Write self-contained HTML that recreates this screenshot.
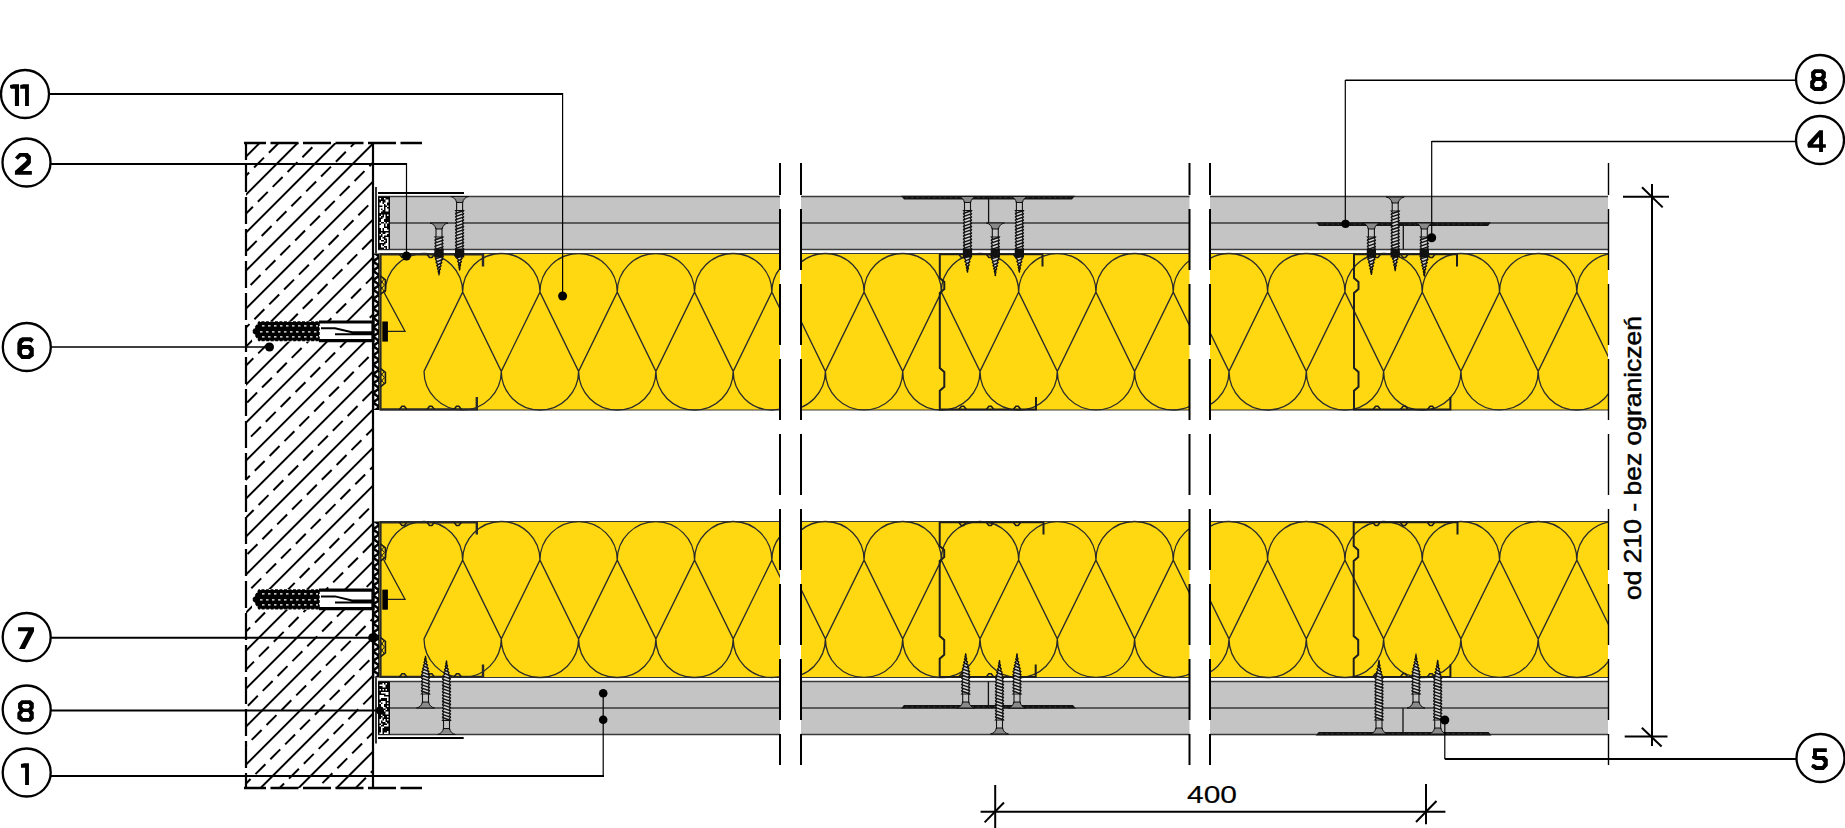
<!DOCTYPE html>
<html><head><meta charset="utf-8"><style>html,body{margin:0;padding:0;background:#fff;overflow:hidden}svg{display:block}.t{font-family:"Liberation Sans",sans-serif}</style></head>
<body><svg width="1845" height="828" viewBox="0 0 1845 828">
<rect width="1845" height="828" fill="#fff"/>
<defs>
<clipPath id="wallclip"><rect x="246" y="143" width="127" height="645"/></clipPath>
<clipPath id="ws0"><rect x="380" y="0" width="400" height="828"/></clipPath>
<clipPath id="ws1"><rect x="801" y="0" width="388.5" height="828"/></clipPath>
<clipPath id="ws2"><rect x="1210" y="0" width="398" height="828"/></clipPath>
</defs>
<g clip-path="url(#wallclip)">
<line x1="-497.40" y1="900.00" x2="502.60" y2="-100.00" stroke="#000" stroke-width="2" />
<line x1="-478.40" y1="900" x2="521.60" y2="-100" stroke="#000" stroke-width="2" stroke-dasharray="14 7" stroke-dashoffset="14.14"/>
<line x1="-459.40" y1="900.00" x2="540.60" y2="-100.00" stroke="#000" stroke-width="2" />
<line x1="-440.40" y1="900" x2="559.60" y2="-100" stroke="#000" stroke-width="2" stroke-dasharray="14 7" stroke-dashoffset="20.51"/>
<line x1="-421.40" y1="900.00" x2="578.60" y2="-100.00" stroke="#000" stroke-width="2" />
<line x1="-402.40" y1="900" x2="597.60" y2="-100" stroke="#000" stroke-width="2" stroke-dasharray="14 7" stroke-dashoffset="5.87"/>
<line x1="-383.40" y1="900.00" x2="616.60" y2="-100.00" stroke="#000" stroke-width="2" />
<line x1="-364.40" y1="900" x2="635.60" y2="-100" stroke="#000" stroke-width="2" stroke-dasharray="14 7" stroke-dashoffset="12.23"/>
<line x1="-345.40" y1="900.00" x2="654.60" y2="-100.00" stroke="#000" stroke-width="2" />
<line x1="-326.40" y1="900" x2="673.60" y2="-100" stroke="#000" stroke-width="2" stroke-dasharray="14 7" stroke-dashoffset="18.60"/>
<line x1="-307.40" y1="900.00" x2="692.60" y2="-100.00" stroke="#000" stroke-width="2" />
<line x1="-288.40" y1="900" x2="711.60" y2="-100" stroke="#000" stroke-width="2" stroke-dasharray="14 7" stroke-dashoffset="3.96"/>
<line x1="-269.40" y1="900.00" x2="730.60" y2="-100.00" stroke="#000" stroke-width="2" />
<line x1="-250.40" y1="900" x2="749.60" y2="-100" stroke="#000" stroke-width="2" stroke-dasharray="14 7" stroke-dashoffset="10.32"/>
<line x1="-231.40" y1="900.00" x2="768.60" y2="-100.00" stroke="#000" stroke-width="2" />
<line x1="-212.40" y1="900" x2="787.60" y2="-100" stroke="#000" stroke-width="2" stroke-dasharray="14 7" stroke-dashoffset="16.69"/>
<line x1="-193.40" y1="900.00" x2="806.60" y2="-100.00" stroke="#000" stroke-width="2" />
<line x1="-174.40" y1="900" x2="825.60" y2="-100" stroke="#000" stroke-width="2" stroke-dasharray="14 7" stroke-dashoffset="2.05"/>
<line x1="-155.40" y1="900.00" x2="844.60" y2="-100.00" stroke="#000" stroke-width="2" />
<line x1="-136.40" y1="900" x2="863.60" y2="-100" stroke="#000" stroke-width="2" stroke-dasharray="14 7" stroke-dashoffset="8.41"/>
<line x1="-117.40" y1="900.00" x2="882.60" y2="-100.00" stroke="#000" stroke-width="2" />
<line x1="-98.40" y1="900" x2="901.60" y2="-100" stroke="#000" stroke-width="2" stroke-dasharray="14 7" stroke-dashoffset="14.78"/>
<line x1="-79.40" y1="900.00" x2="920.60" y2="-100.00" stroke="#000" stroke-width="2" />
<line x1="-60.40" y1="900" x2="939.60" y2="-100" stroke="#000" stroke-width="2" stroke-dasharray="14 7" stroke-dashoffset="0.14"/>
<line x1="-41.40" y1="900.00" x2="958.60" y2="-100.00" stroke="#000" stroke-width="2" />
<line x1="-22.40" y1="900" x2="977.60" y2="-100" stroke="#000" stroke-width="2" stroke-dasharray="14 7" stroke-dashoffset="6.51"/>
<line x1="-3.40" y1="900.00" x2="996.60" y2="-100.00" stroke="#000" stroke-width="2" />
<line x1="15.60" y1="900" x2="1015.60" y2="-100" stroke="#000" stroke-width="2" stroke-dasharray="14 7" stroke-dashoffset="12.87"/>
<line x1="34.60" y1="900.00" x2="1034.60" y2="-100.00" stroke="#000" stroke-width="2" />
<line x1="53.60" y1="900" x2="1053.60" y2="-100" stroke="#000" stroke-width="2" stroke-dasharray="14 7" stroke-dashoffset="19.23"/>
<line x1="72.60" y1="900.00" x2="1072.60" y2="-100.00" stroke="#000" stroke-width="2" />
<line x1="91.60" y1="900" x2="1091.60" y2="-100" stroke="#000" stroke-width="2" stroke-dasharray="14 7" stroke-dashoffset="4.60"/>
<line x1="110.60" y1="900.00" x2="1110.60" y2="-100.00" stroke="#000" stroke-width="2" />
<line x1="129.60" y1="900" x2="1129.60" y2="-100" stroke="#000" stroke-width="2" stroke-dasharray="14 7" stroke-dashoffset="10.96"/>
<line x1="148.60" y1="900.00" x2="1148.60" y2="-100.00" stroke="#000" stroke-width="2" />
<line x1="167.60" y1="900" x2="1167.60" y2="-100" stroke="#000" stroke-width="2" stroke-dasharray="14 7" stroke-dashoffset="17.32"/>
<line x1="186.60" y1="900.00" x2="1186.60" y2="-100.00" stroke="#000" stroke-width="2" />
<line x1="205.60" y1="900" x2="1205.60" y2="-100" stroke="#000" stroke-width="2" stroke-dasharray="14 7" stroke-dashoffset="2.69"/>
<line x1="224.60" y1="900.00" x2="1224.60" y2="-100.00" stroke="#000" stroke-width="2" />
<line x1="243.60" y1="900" x2="1243.60" y2="-100" stroke="#000" stroke-width="2" stroke-dasharray="14 7" stroke-dashoffset="9.05"/>
<line x1="262.60" y1="900.00" x2="1262.60" y2="-100.00" stroke="#000" stroke-width="2" />
<line x1="281.60" y1="900" x2="1281.60" y2="-100" stroke="#000" stroke-width="2" stroke-dasharray="14 7" stroke-dashoffset="15.41"/>
</g>
<line x1="246" y1="143" x2="246" y2="788" stroke="#000" stroke-width="2.2" stroke-dasharray="27 5" stroke-dashoffset="10"/>
<line x1="373.00" y1="142.00" x2="373.00" y2="789.00" stroke="#000" stroke-width="2.2" />
<line x1="244" y1="143" x2="422" y2="143" stroke="#000" stroke-width="2.4" stroke-dasharray="28 4.5" stroke-dashoffset="6"/>
<line x1="244" y1="788" x2="422" y2="788" stroke="#000" stroke-width="2.4" stroke-dasharray="28 4.5" stroke-dashoffset="6"/>
<rect x="378" y="196.5" width="402" height="53.0" fill="#C4C4C4"/>
<line x1="378.00" y1="196.50" x2="780.00" y2="196.50" stroke="#3a3a3a" stroke-width="1.3" />
<line x1="378.00" y1="223.00" x2="780.00" y2="223.00" stroke="#3a3a3a" stroke-width="1.3" />
<line x1="378.00" y1="249.50" x2="780.00" y2="249.50" stroke="#3a3a3a" stroke-width="1.3" />
<rect x="801" y="196.5" width="388.5" height="53.0" fill="#C4C4C4"/>
<line x1="801.00" y1="196.50" x2="1189.50" y2="196.50" stroke="#3a3a3a" stroke-width="1.3" />
<line x1="801.00" y1="223.00" x2="1189.50" y2="223.00" stroke="#3a3a3a" stroke-width="1.3" />
<line x1="801.00" y1="249.50" x2="1189.50" y2="249.50" stroke="#3a3a3a" stroke-width="1.3" />
<rect x="1210" y="196.5" width="398" height="53.0" fill="#C4C4C4"/>
<line x1="1210.00" y1="196.50" x2="1608.00" y2="196.50" stroke="#3a3a3a" stroke-width="1.3" />
<line x1="1210.00" y1="223.00" x2="1608.00" y2="223.00" stroke="#3a3a3a" stroke-width="1.3" />
<line x1="1210.00" y1="249.50" x2="1608.00" y2="249.50" stroke="#3a3a3a" stroke-width="1.3" />
<rect x="378" y="196.5" width="12" height="53.0" fill="#000"/>
<path d="M379.5,198.0h1.5v1.5h-1.5zM384.0,198.0h1.5v1.5h-1.5zM385.5,199.5h1.5v1.5h-1.5zM387.0,199.5h1.5v1.5h-1.5zM381.0,201.0h1.5v1.5h-1.5zM385.5,201.0h1.5v1.5h-1.5zM387.0,201.0h1.5v1.5h-1.5zM379.5,202.5h1.5v1.5h-1.5zM381.0,202.5h1.5v1.5h-1.5zM384.0,202.5h1.5v1.5h-1.5zM385.5,202.5h1.5v1.5h-1.5zM379.5,204.0h1.5v1.5h-1.5zM381.0,204.0h1.5v1.5h-1.5zM382.5,204.0h1.5v1.5h-1.5zM385.5,204.0h1.5v1.5h-1.5zM382.5,205.5h1.5v1.5h-1.5zM387.0,205.5h1.5v1.5h-1.5zM379.5,207.0h1.5v1.5h-1.5zM381.0,207.0h1.5v1.5h-1.5zM382.5,207.0h1.5v1.5h-1.5zM385.5,207.0h1.5v1.5h-1.5zM379.5,208.5h1.5v1.5h-1.5zM382.5,208.5h1.5v1.5h-1.5zM385.5,208.5h1.5v1.5h-1.5zM387.0,208.5h1.5v1.5h-1.5zM379.5,210.0h1.5v1.5h-1.5zM381.0,210.0h1.5v1.5h-1.5zM385.5,210.0h1.5v1.5h-1.5zM387.0,210.0h1.5v1.5h-1.5zM379.5,211.5h1.5v1.5h-1.5zM381.0,214.5h1.5v1.5h-1.5zM384.0,214.5h1.5v1.5h-1.5zM387.0,214.5h1.5v1.5h-1.5zM379.5,216.0h1.5v1.5h-1.5zM384.0,216.0h1.5v1.5h-1.5zM382.5,217.5h1.5v1.5h-1.5zM384.0,217.5h1.5v1.5h-1.5zM381.0,219.0h1.5v1.5h-1.5zM382.5,219.0h1.5v1.5h-1.5zM381.0,220.5h1.5v1.5h-1.5zM382.5,220.5h1.5v1.5h-1.5zM379.5,222.0h1.5v1.5h-1.5zM384.0,222.0h1.5v1.5h-1.5zM387.0,222.0h1.5v1.5h-1.5zM381.0,223.5h1.5v1.5h-1.5zM382.5,223.5h1.5v1.5h-1.5zM385.5,223.5h1.5v1.5h-1.5zM379.5,225.0h1.5v1.5h-1.5zM381.0,225.0h1.5v1.5h-1.5zM382.5,225.0h1.5v1.5h-1.5zM385.5,225.0h1.5v1.5h-1.5zM379.5,226.5h1.5v1.5h-1.5zM381.0,226.5h1.5v1.5h-1.5zM382.5,226.5h1.5v1.5h-1.5zM381.0,228.0h1.5v1.5h-1.5zM384.0,228.0h1.5v1.5h-1.5zM385.5,228.0h1.5v1.5h-1.5zM381.0,229.5h1.5v1.5h-1.5zM384.0,229.5h1.5v1.5h-1.5zM385.5,229.5h1.5v1.5h-1.5zM387.0,229.5h1.5v1.5h-1.5zM381.0,232.5h1.5v1.5h-1.5zM385.5,232.5h1.5v1.5h-1.5zM387.0,232.5h1.5v1.5h-1.5zM379.5,234.0h1.5v1.5h-1.5zM382.5,234.0h1.5v1.5h-1.5zM384.0,234.0h1.5v1.5h-1.5zM385.5,234.0h1.5v1.5h-1.5zM382.5,235.5h1.5v1.5h-1.5zM381.0,237.0h1.5v1.5h-1.5zM385.5,237.0h1.5v1.5h-1.5zM387.0,237.0h1.5v1.5h-1.5zM381.0,238.5h1.5v1.5h-1.5zM382.5,238.5h1.5v1.5h-1.5zM387.0,238.5h1.5v1.5h-1.5zM379.5,240.0h1.5v1.5h-1.5zM384.0,240.0h1.5v1.5h-1.5zM387.0,240.0h1.5v1.5h-1.5zM379.5,241.5h1.5v1.5h-1.5zM381.0,241.5h1.5v1.5h-1.5zM382.5,241.5h1.5v1.5h-1.5zM387.0,241.5h1.5v1.5h-1.5zM385.5,243.0h1.5v1.5h-1.5zM387.0,243.0h1.5v1.5h-1.5zM381.0,244.5h1.5v1.5h-1.5zM384.0,244.5h1.5v1.5h-1.5zM385.5,244.5h1.5v1.5h-1.5zM387.0,244.5h1.5v1.5h-1.5zM381.0,246.0h1.5v1.5h-1.5zM382.5,246.0h1.5v1.5h-1.5zM387.0,246.0h1.5v1.5h-1.5zM384.0,247.5h1.5v1.5h-1.5zM387.0,247.5h1.5v1.5h-1.5z" fill="#fff"/>
<rect x="378" y="681.5" width="402" height="53.0" fill="#C4C4C4"/>
<line x1="378.00" y1="681.50" x2="780.00" y2="681.50" stroke="#3a3a3a" stroke-width="1.3" />
<line x1="378.00" y1="708.00" x2="780.00" y2="708.00" stroke="#3a3a3a" stroke-width="1.3" />
<line x1="378.00" y1="734.50" x2="780.00" y2="734.50" stroke="#3a3a3a" stroke-width="1.3" />
<rect x="801" y="681.5" width="388.5" height="53.0" fill="#C4C4C4"/>
<line x1="801.00" y1="681.50" x2="1189.50" y2="681.50" stroke="#3a3a3a" stroke-width="1.3" />
<line x1="801.00" y1="708.00" x2="1189.50" y2="708.00" stroke="#3a3a3a" stroke-width="1.3" />
<line x1="801.00" y1="734.50" x2="1189.50" y2="734.50" stroke="#3a3a3a" stroke-width="1.3" />
<rect x="1210" y="681.5" width="398" height="53.0" fill="#C4C4C4"/>
<line x1="1210.00" y1="681.50" x2="1608.00" y2="681.50" stroke="#3a3a3a" stroke-width="1.3" />
<line x1="1210.00" y1="708.00" x2="1608.00" y2="708.00" stroke="#3a3a3a" stroke-width="1.3" />
<line x1="1210.00" y1="734.50" x2="1608.00" y2="734.50" stroke="#3a3a3a" stroke-width="1.3" />
<rect x="378" y="681.5" width="12" height="53.0" fill="#000"/>
<path d="M382.5,683.0h1.5v1.5h-1.5zM385.5,683.0h1.5v1.5h-1.5zM379.5,684.5h1.5v1.5h-1.5zM381.0,684.5h1.5v1.5h-1.5zM382.5,684.5h1.5v1.5h-1.5zM384.0,684.5h1.5v1.5h-1.5zM382.5,686.0h1.5v1.5h-1.5zM384.0,686.0h1.5v1.5h-1.5zM379.5,689.0h1.5v1.5h-1.5zM382.5,689.0h1.5v1.5h-1.5zM385.5,689.0h1.5v1.5h-1.5zM381.0,692.0h1.5v1.5h-1.5zM382.5,692.0h1.5v1.5h-1.5zM384.0,692.0h1.5v1.5h-1.5zM385.5,692.0h1.5v1.5h-1.5zM387.0,692.0h1.5v1.5h-1.5zM385.5,693.5h1.5v1.5h-1.5zM387.0,693.5h1.5v1.5h-1.5zM379.5,695.0h1.5v1.5h-1.5zM381.0,695.0h1.5v1.5h-1.5zM382.5,695.0h1.5v1.5h-1.5zM379.5,696.5h1.5v1.5h-1.5zM381.0,696.5h1.5v1.5h-1.5zM382.5,696.5h1.5v1.5h-1.5zM384.0,696.5h1.5v1.5h-1.5zM385.5,696.5h1.5v1.5h-1.5zM387.0,696.5h1.5v1.5h-1.5zM379.5,698.0h1.5v1.5h-1.5zM387.0,698.0h1.5v1.5h-1.5zM387.0,699.5h1.5v1.5h-1.5zM381.0,701.0h1.5v1.5h-1.5zM382.5,701.0h1.5v1.5h-1.5zM384.0,701.0h1.5v1.5h-1.5zM379.5,702.5h1.5v1.5h-1.5zM382.5,702.5h1.5v1.5h-1.5zM384.0,702.5h1.5v1.5h-1.5zM387.0,702.5h1.5v1.5h-1.5zM381.0,704.0h1.5v1.5h-1.5zM382.5,704.0h1.5v1.5h-1.5zM381.0,705.5h1.5v1.5h-1.5zM382.5,705.5h1.5v1.5h-1.5zM387.0,705.5h1.5v1.5h-1.5zM379.5,707.0h1.5v1.5h-1.5zM382.5,707.0h1.5v1.5h-1.5zM384.0,707.0h1.5v1.5h-1.5zM381.0,708.5h1.5v1.5h-1.5zM382.5,708.5h1.5v1.5h-1.5zM385.5,708.5h1.5v1.5h-1.5zM381.0,710.0h1.5v1.5h-1.5zM384.0,710.0h1.5v1.5h-1.5zM379.5,711.5h1.5v1.5h-1.5zM385.5,711.5h1.5v1.5h-1.5zM387.0,711.5h1.5v1.5h-1.5zM385.5,713.0h1.5v1.5h-1.5zM387.0,713.0h1.5v1.5h-1.5zM381.0,714.5h1.5v1.5h-1.5zM382.5,716.0h1.5v1.5h-1.5zM387.0,716.0h1.5v1.5h-1.5zM381.0,717.5h1.5v1.5h-1.5zM379.5,719.0h1.5v1.5h-1.5zM381.0,719.0h1.5v1.5h-1.5zM384.0,719.0h1.5v1.5h-1.5zM387.0,719.0h1.5v1.5h-1.5zM379.5,720.5h1.5v1.5h-1.5zM382.5,720.5h1.5v1.5h-1.5zM384.0,720.5h1.5v1.5h-1.5zM379.5,722.0h1.5v1.5h-1.5zM385.5,722.0h1.5v1.5h-1.5zM381.0,723.5h1.5v1.5h-1.5zM387.0,723.5h1.5v1.5h-1.5zM379.5,725.0h1.5v1.5h-1.5zM384.0,725.0h1.5v1.5h-1.5zM385.5,725.0h1.5v1.5h-1.5zM387.0,725.0h1.5v1.5h-1.5zM381.0,726.5h1.5v1.5h-1.5zM382.5,726.5h1.5v1.5h-1.5zM381.0,728.0h1.5v1.5h-1.5zM381.0,729.5h1.5v1.5h-1.5zM381.0,731.0h1.5v1.5h-1.5zM387.0,731.0h1.5v1.5h-1.5zM379.5,732.5h1.5v1.5h-1.5zM381.0,732.5h1.5v1.5h-1.5zM384.0,732.5h1.5v1.5h-1.5zM385.5,732.5h1.5v1.5h-1.5zM387.0,732.5h1.5v1.5h-1.5z" fill="#fff"/>
<rect x="380" y="253.5" width="400" height="156.5" fill="#FFD811"/>
<line x1="380.00" y1="253.50" x2="780.00" y2="253.50" stroke="#3a3a3a" stroke-width="1.2" />
<line x1="380.00" y1="410.00" x2="780.00" y2="410.00" stroke="#3a3a3a" stroke-width="1.2" />
<path clip-path="url(#ws0)" d="M385.35,292.15 A38.65,38.65 0 0 1 462.65,292.15 M424.00,371.35 L462.65,292.15 M424.00,371.35 A38.65,38.65 0 0 0 501.30,371.35 M462.65,292.15 A38.65,38.65 0 0 1 539.95,292.15 M462.65,292.15 L501.30,371.35 M501.30,371.35 L539.95,292.15 M501.30,371.35 A38.65,38.65 0 0 0 578.60,371.35 M539.95,292.15 A38.65,38.65 0 0 1 617.25,292.15 M539.95,292.15 L578.60,371.35 M578.60,371.35 L617.25,292.15 M578.60,371.35 A38.65,38.65 0 0 0 655.90,371.35 M617.25,292.15 A38.65,38.65 0 0 1 694.55,292.15 M617.25,292.15 L655.90,371.35 M655.90,371.35 L694.55,292.15 M655.90,371.35 A38.65,38.65 0 0 0 733.20,371.35 M694.55,292.15 A38.65,38.65 0 0 1 771.85,292.15 M694.55,292.15 L733.20,371.35 M733.20,371.35 L771.85,292.15 M733.20,371.35 A38.65,38.65 0 0 0 810.50,371.35 M771.85,292.15 A38.65,38.65 0 0 1 849.15,292.15 M771.85,292.15 L810.50,371.35 M810.50,371.35 L849.15,292.15 M810.50,371.35 A38.65,38.65 0 0 0 887.80,371.35 M849.15,292.15 A38.65,38.65 0 0 1 926.45,292.15 M849.15,292.15 L887.80,371.35 M887.80,371.35 L926.45,292.15 M887.80,371.35 A38.65,38.65 0 0 0 965.10,371.35 M926.45,292.15 A38.65,38.65 0 0 1 1003.75,292.15 M926.45,292.15 L965.10,371.35 M965.10,371.35 L1003.75,292.15 M965.10,371.35 A38.65,38.65 0 0 0 1042.40,371.35 M1003.75,292.15 A38.65,38.65 0 0 1 1081.05,292.15 M1003.75,292.15 L1042.40,371.35 M1042.40,371.35 L1081.05,292.15 M1042.40,371.35 A38.65,38.65 0 0 0 1119.70,371.35 M1081.05,292.15 A38.65,38.65 0 0 1 1158.35,292.15 M1081.05,292.15 L1119.70,371.35 M1119.70,371.35 L1158.35,292.15 M1119.70,371.35 A38.65,38.65 0 0 0 1197.00,371.35 M1158.35,292.15 A38.65,38.65 0 0 1 1235.65,292.15 M1158.35,292.15 L1197.00,371.35 M1197.00,371.35 L1235.65,292.15 M1197.00,371.35 A38.65,38.65 0 0 0 1274.30,371.35 M1235.65,292.15 A38.65,38.65 0 0 1 1312.95,292.15 M1235.65,292.15 L1274.30,371.35 M1274.30,371.35 L1312.95,292.15 M1274.30,371.35 A38.65,38.65 0 0 0 1351.60,371.35" fill="none" stroke="#2b2b2b" stroke-width="1.3"/>
<rect x="801" y="253.5" width="388.5" height="156.5" fill="#FFD811"/>
<line x1="801.00" y1="253.50" x2="1189.50" y2="253.50" stroke="#3a3a3a" stroke-width="1.2" />
<line x1="801.00" y1="410.00" x2="1189.50" y2="410.00" stroke="#3a3a3a" stroke-width="1.2" />
<path clip-path="url(#ws1)" d="M632.15,292.15 A38.65,38.65 0 0 1 709.45,292.15 M632.15,292.15 L670.80,371.35 M670.80,371.35 L709.45,292.15 M670.80,371.35 A38.65,38.65 0 0 0 748.10,371.35 M709.45,292.15 A38.65,38.65 0 0 1 786.75,292.15 M709.45,292.15 L748.10,371.35 M748.10,371.35 L786.75,292.15 M748.10,371.35 A38.65,38.65 0 0 0 825.40,371.35 M786.75,292.15 A38.65,38.65 0 0 1 864.05,292.15 M786.75,292.15 L825.40,371.35 M825.40,371.35 L864.05,292.15 M825.40,371.35 A38.65,38.65 0 0 0 902.70,371.35 M864.05,292.15 A38.65,38.65 0 0 1 941.35,292.15 M864.05,292.15 L902.70,371.35 M902.70,371.35 L941.35,292.15 M902.70,371.35 A38.65,38.65 0 0 0 980.00,371.35 M941.35,292.15 A38.65,38.65 0 0 1 1018.65,292.15 M941.35,292.15 L980.00,371.35 M980.00,371.35 L1018.65,292.15 M980.00,371.35 A38.65,38.65 0 0 0 1057.30,371.35 M1018.65,292.15 A38.65,38.65 0 0 1 1095.95,292.15 M1018.65,292.15 L1057.30,371.35 M1057.30,371.35 L1095.95,292.15 M1057.30,371.35 A38.65,38.65 0 0 0 1134.60,371.35 M1095.95,292.15 A38.65,38.65 0 0 1 1173.25,292.15 M1095.95,292.15 L1134.60,371.35 M1134.60,371.35 L1173.25,292.15 M1134.60,371.35 A38.65,38.65 0 0 0 1211.90,371.35 M1173.25,292.15 A38.65,38.65 0 0 1 1250.55,292.15 M1173.25,292.15 L1211.90,371.35 M1211.90,371.35 L1250.55,292.15 M1211.90,371.35 A38.65,38.65 0 0 0 1289.20,371.35 M1250.55,292.15 A38.65,38.65 0 0 1 1327.85,292.15 M1250.55,292.15 L1289.20,371.35 M1289.20,371.35 L1327.85,292.15 M1289.20,371.35 A38.65,38.65 0 0 0 1366.50,371.35 M1327.85,292.15 A38.65,38.65 0 0 1 1405.15,292.15 M1327.85,292.15 L1366.50,371.35 M1366.50,371.35 L1405.15,292.15 M1366.50,371.35 A38.65,38.65 0 0 0 1443.80,371.35 M1405.15,292.15 A38.65,38.65 0 0 1 1482.45,292.15 M1405.15,292.15 L1443.80,371.35 M1443.80,371.35 L1482.45,292.15 M1443.80,371.35 A38.65,38.65 0 0 0 1521.10,371.35 M1482.45,292.15 A38.65,38.65 0 0 1 1559.75,292.15 M1482.45,292.15 L1521.10,371.35 M1521.10,371.35 L1559.75,292.15 M1521.10,371.35 A38.65,38.65 0 0 0 1598.40,371.35 M1559.75,292.15 A38.65,38.65 0 0 1 1637.05,292.15 M1559.75,292.15 L1598.40,371.35 M1598.40,371.35 L1637.05,292.15 M1598.40,371.35 A38.65,38.65 0 0 0 1675.70,371.35 M1637.05,292.15 A38.65,38.65 0 0 1 1714.35,292.15 M1637.05,292.15 L1675.70,371.35 M1675.70,371.35 L1714.35,292.15 M1675.70,371.35 A38.65,38.65 0 0 0 1753.00,371.35" fill="none" stroke="#2b2b2b" stroke-width="1.3"/>
<rect x="1210" y="253.5" width="398" height="156.5" fill="#FFD811"/>
<line x1="1210.00" y1="253.50" x2="1608.00" y2="253.50" stroke="#3a3a3a" stroke-width="1.2" />
<line x1="1210.00" y1="410.00" x2="1608.00" y2="410.00" stroke="#3a3a3a" stroke-width="1.2" />
<path clip-path="url(#ws2)" d="M1035.75,292.15 A38.65,38.65 0 0 1 1113.05,292.15 M1035.75,292.15 L1074.40,371.35 M1074.40,371.35 L1113.05,292.15 M1074.40,371.35 A38.65,38.65 0 0 0 1151.70,371.35 M1113.05,292.15 A38.65,38.65 0 0 1 1190.35,292.15 M1113.05,292.15 L1151.70,371.35 M1151.70,371.35 L1190.35,292.15 M1151.70,371.35 A38.65,38.65 0 0 0 1229.00,371.35 M1190.35,292.15 A38.65,38.65 0 0 1 1267.65,292.15 M1190.35,292.15 L1229.00,371.35 M1229.00,371.35 L1267.65,292.15 M1229.00,371.35 A38.65,38.65 0 0 0 1306.30,371.35 M1267.65,292.15 A38.65,38.65 0 0 1 1344.95,292.15 M1267.65,292.15 L1306.30,371.35 M1306.30,371.35 L1344.95,292.15 M1306.30,371.35 A38.65,38.65 0 0 0 1383.60,371.35 M1344.95,292.15 A38.65,38.65 0 0 1 1422.25,292.15 M1344.95,292.15 L1383.60,371.35 M1383.60,371.35 L1422.25,292.15 M1383.60,371.35 A38.65,38.65 0 0 0 1460.90,371.35 M1422.25,292.15 A38.65,38.65 0 0 1 1499.55,292.15 M1422.25,292.15 L1460.90,371.35 M1460.90,371.35 L1499.55,292.15 M1460.90,371.35 A38.65,38.65 0 0 0 1538.20,371.35 M1499.55,292.15 A38.65,38.65 0 0 1 1576.85,292.15 M1499.55,292.15 L1538.20,371.35 M1538.20,371.35 L1576.85,292.15 M1538.20,371.35 A38.65,38.65 0 0 0 1615.50,371.35 M1576.85,292.15 A38.65,38.65 0 0 1 1654.15,292.15 M1576.85,292.15 L1615.50,371.35 M1615.50,371.35 L1654.15,292.15 M1615.50,371.35 A38.65,38.65 0 0 0 1692.80,371.35 M1654.15,292.15 A38.65,38.65 0 0 1 1731.45,292.15 M1654.15,292.15 L1692.80,371.35 M1692.80,371.35 L1731.45,292.15 M1692.80,371.35 A38.65,38.65 0 0 0 1770.10,371.35 M1731.45,292.15 A38.65,38.65 0 0 1 1808.75,292.15 M1731.45,292.15 L1770.10,371.35 M1770.10,371.35 L1808.75,292.15 M1770.10,371.35 A38.65,38.65 0 0 0 1847.40,371.35 M1808.75,292.15 A38.65,38.65 0 0 1 1886.05,292.15 M1808.75,292.15 L1847.40,371.35 M1847.40,371.35 L1886.05,292.15 M1847.40,371.35 A38.65,38.65 0 0 0 1924.70,371.35 M1886.05,292.15 A38.65,38.65 0 0 1 1963.35,292.15 M1886.05,292.15 L1924.70,371.35 M1924.70,371.35 L1963.35,292.15 M1924.70,371.35 A38.65,38.65 0 0 0 2002.00,371.35 M1963.35,292.15 A38.65,38.65 0 0 1 2040.65,292.15 M1963.35,292.15 L2002.00,371.35 M2002.00,371.35 L2040.65,292.15 M2002.00,371.35 A38.65,38.65 0 0 0 2079.30,371.35 M2040.65,292.15 A38.65,38.65 0 0 1 2117.95,292.15 M2040.65,292.15 L2079.30,371.35 M2079.30,371.35 L2117.95,292.15 M2079.30,371.35 A38.65,38.65 0 0 0 2156.60,371.35" fill="none" stroke="#2b2b2b" stroke-width="1.3"/>
<rect x="380" y="521.5" width="400" height="156.0" fill="#FFD811"/>
<line x1="380.00" y1="521.50" x2="780.00" y2="521.50" stroke="#3a3a3a" stroke-width="1.2" />
<line x1="380.00" y1="677.50" x2="780.00" y2="677.50" stroke="#3a3a3a" stroke-width="1.2" />
<path clip-path="url(#ws0)" d="M385.35,560.15 A38.65,38.65 0 0 1 462.65,560.15 M424.00,638.85 L462.65,560.15 M424.00,638.85 A38.65,38.65 0 0 0 501.30,638.85 M462.65,560.15 A38.65,38.65 0 0 1 539.95,560.15 M462.65,560.15 L501.30,638.85 M501.30,638.85 L539.95,560.15 M501.30,638.85 A38.65,38.65 0 0 0 578.60,638.85 M539.95,560.15 A38.65,38.65 0 0 1 617.25,560.15 M539.95,560.15 L578.60,638.85 M578.60,638.85 L617.25,560.15 M578.60,638.85 A38.65,38.65 0 0 0 655.90,638.85 M617.25,560.15 A38.65,38.65 0 0 1 694.55,560.15 M617.25,560.15 L655.90,638.85 M655.90,638.85 L694.55,560.15 M655.90,638.85 A38.65,38.65 0 0 0 733.20,638.85 M694.55,560.15 A38.65,38.65 0 0 1 771.85,560.15 M694.55,560.15 L733.20,638.85 M733.20,638.85 L771.85,560.15 M733.20,638.85 A38.65,38.65 0 0 0 810.50,638.85 M771.85,560.15 A38.65,38.65 0 0 1 849.15,560.15 M771.85,560.15 L810.50,638.85 M810.50,638.85 L849.15,560.15 M810.50,638.85 A38.65,38.65 0 0 0 887.80,638.85 M849.15,560.15 A38.65,38.65 0 0 1 926.45,560.15 M849.15,560.15 L887.80,638.85 M887.80,638.85 L926.45,560.15 M887.80,638.85 A38.65,38.65 0 0 0 965.10,638.85 M926.45,560.15 A38.65,38.65 0 0 1 1003.75,560.15 M926.45,560.15 L965.10,638.85 M965.10,638.85 L1003.75,560.15 M965.10,638.85 A38.65,38.65 0 0 0 1042.40,638.85 M1003.75,560.15 A38.65,38.65 0 0 1 1081.05,560.15 M1003.75,560.15 L1042.40,638.85 M1042.40,638.85 L1081.05,560.15 M1042.40,638.85 A38.65,38.65 0 0 0 1119.70,638.85 M1081.05,560.15 A38.65,38.65 0 0 1 1158.35,560.15 M1081.05,560.15 L1119.70,638.85 M1119.70,638.85 L1158.35,560.15 M1119.70,638.85 A38.65,38.65 0 0 0 1197.00,638.85 M1158.35,560.15 A38.65,38.65 0 0 1 1235.65,560.15 M1158.35,560.15 L1197.00,638.85 M1197.00,638.85 L1235.65,560.15 M1197.00,638.85 A38.65,38.65 0 0 0 1274.30,638.85 M1235.65,560.15 A38.65,38.65 0 0 1 1312.95,560.15 M1235.65,560.15 L1274.30,638.85 M1274.30,638.85 L1312.95,560.15 M1274.30,638.85 A38.65,38.65 0 0 0 1351.60,638.85" fill="none" stroke="#2b2b2b" stroke-width="1.3"/>
<rect x="801" y="521.5" width="388.5" height="156.0" fill="#FFD811"/>
<line x1="801.00" y1="521.50" x2="1189.50" y2="521.50" stroke="#3a3a3a" stroke-width="1.2" />
<line x1="801.00" y1="677.50" x2="1189.50" y2="677.50" stroke="#3a3a3a" stroke-width="1.2" />
<path clip-path="url(#ws1)" d="M632.15,560.15 A38.65,38.65 0 0 1 709.45,560.15 M632.15,560.15 L670.80,638.85 M670.80,638.85 L709.45,560.15 M670.80,638.85 A38.65,38.65 0 0 0 748.10,638.85 M709.45,560.15 A38.65,38.65 0 0 1 786.75,560.15 M709.45,560.15 L748.10,638.85 M748.10,638.85 L786.75,560.15 M748.10,638.85 A38.65,38.65 0 0 0 825.40,638.85 M786.75,560.15 A38.65,38.65 0 0 1 864.05,560.15 M786.75,560.15 L825.40,638.85 M825.40,638.85 L864.05,560.15 M825.40,638.85 A38.65,38.65 0 0 0 902.70,638.85 M864.05,560.15 A38.65,38.65 0 0 1 941.35,560.15 M864.05,560.15 L902.70,638.85 M902.70,638.85 L941.35,560.15 M902.70,638.85 A38.65,38.65 0 0 0 980.00,638.85 M941.35,560.15 A38.65,38.65 0 0 1 1018.65,560.15 M941.35,560.15 L980.00,638.85 M980.00,638.85 L1018.65,560.15 M980.00,638.85 A38.65,38.65 0 0 0 1057.30,638.85 M1018.65,560.15 A38.65,38.65 0 0 1 1095.95,560.15 M1018.65,560.15 L1057.30,638.85 M1057.30,638.85 L1095.95,560.15 M1057.30,638.85 A38.65,38.65 0 0 0 1134.60,638.85 M1095.95,560.15 A38.65,38.65 0 0 1 1173.25,560.15 M1095.95,560.15 L1134.60,638.85 M1134.60,638.85 L1173.25,560.15 M1134.60,638.85 A38.65,38.65 0 0 0 1211.90,638.85 M1173.25,560.15 A38.65,38.65 0 0 1 1250.55,560.15 M1173.25,560.15 L1211.90,638.85 M1211.90,638.85 L1250.55,560.15 M1211.90,638.85 A38.65,38.65 0 0 0 1289.20,638.85 M1250.55,560.15 A38.65,38.65 0 0 1 1327.85,560.15 M1250.55,560.15 L1289.20,638.85 M1289.20,638.85 L1327.85,560.15 M1289.20,638.85 A38.65,38.65 0 0 0 1366.50,638.85 M1327.85,560.15 A38.65,38.65 0 0 1 1405.15,560.15 M1327.85,560.15 L1366.50,638.85 M1366.50,638.85 L1405.15,560.15 M1366.50,638.85 A38.65,38.65 0 0 0 1443.80,638.85 M1405.15,560.15 A38.65,38.65 0 0 1 1482.45,560.15 M1405.15,560.15 L1443.80,638.85 M1443.80,638.85 L1482.45,560.15 M1443.80,638.85 A38.65,38.65 0 0 0 1521.10,638.85 M1482.45,560.15 A38.65,38.65 0 0 1 1559.75,560.15 M1482.45,560.15 L1521.10,638.85 M1521.10,638.85 L1559.75,560.15 M1521.10,638.85 A38.65,38.65 0 0 0 1598.40,638.85 M1559.75,560.15 A38.65,38.65 0 0 1 1637.05,560.15 M1559.75,560.15 L1598.40,638.85 M1598.40,638.85 L1637.05,560.15 M1598.40,638.85 A38.65,38.65 0 0 0 1675.70,638.85 M1637.05,560.15 A38.65,38.65 0 0 1 1714.35,560.15 M1637.05,560.15 L1675.70,638.85 M1675.70,638.85 L1714.35,560.15 M1675.70,638.85 A38.65,38.65 0 0 0 1753.00,638.85" fill="none" stroke="#2b2b2b" stroke-width="1.3"/>
<rect x="1210" y="521.5" width="398" height="156.0" fill="#FFD811"/>
<line x1="1210.00" y1="521.50" x2="1608.00" y2="521.50" stroke="#3a3a3a" stroke-width="1.2" />
<line x1="1210.00" y1="677.50" x2="1608.00" y2="677.50" stroke="#3a3a3a" stroke-width="1.2" />
<path clip-path="url(#ws2)" d="M1035.75,560.15 A38.65,38.65 0 0 1 1113.05,560.15 M1035.75,560.15 L1074.40,638.85 M1074.40,638.85 L1113.05,560.15 M1074.40,638.85 A38.65,38.65 0 0 0 1151.70,638.85 M1113.05,560.15 A38.65,38.65 0 0 1 1190.35,560.15 M1113.05,560.15 L1151.70,638.85 M1151.70,638.85 L1190.35,560.15 M1151.70,638.85 A38.65,38.65 0 0 0 1229.00,638.85 M1190.35,560.15 A38.65,38.65 0 0 1 1267.65,560.15 M1190.35,560.15 L1229.00,638.85 M1229.00,638.85 L1267.65,560.15 M1229.00,638.85 A38.65,38.65 0 0 0 1306.30,638.85 M1267.65,560.15 A38.65,38.65 0 0 1 1344.95,560.15 M1267.65,560.15 L1306.30,638.85 M1306.30,638.85 L1344.95,560.15 M1306.30,638.85 A38.65,38.65 0 0 0 1383.60,638.85 M1344.95,560.15 A38.65,38.65 0 0 1 1422.25,560.15 M1344.95,560.15 L1383.60,638.85 M1383.60,638.85 L1422.25,560.15 M1383.60,638.85 A38.65,38.65 0 0 0 1460.90,638.85 M1422.25,560.15 A38.65,38.65 0 0 1 1499.55,560.15 M1422.25,560.15 L1460.90,638.85 M1460.90,638.85 L1499.55,560.15 M1460.90,638.85 A38.65,38.65 0 0 0 1538.20,638.85 M1499.55,560.15 A38.65,38.65 0 0 1 1576.85,560.15 M1499.55,560.15 L1538.20,638.85 M1538.20,638.85 L1576.85,560.15 M1538.20,638.85 A38.65,38.65 0 0 0 1615.50,638.85 M1576.85,560.15 A38.65,38.65 0 0 1 1654.15,560.15 M1576.85,560.15 L1615.50,638.85 M1615.50,638.85 L1654.15,560.15 M1615.50,638.85 A38.65,38.65 0 0 0 1692.80,638.85 M1654.15,560.15 A38.65,38.65 0 0 1 1731.45,560.15 M1654.15,560.15 L1692.80,638.85 M1692.80,638.85 L1731.45,560.15 M1692.80,638.85 A38.65,38.65 0 0 0 1770.10,638.85 M1731.45,560.15 A38.65,38.65 0 0 1 1808.75,560.15 M1731.45,560.15 L1770.10,638.85 M1770.10,638.85 L1808.75,560.15 M1770.10,638.85 A38.65,38.65 0 0 0 1847.40,638.85 M1808.75,560.15 A38.65,38.65 0 0 1 1886.05,560.15 M1808.75,560.15 L1847.40,638.85 M1847.40,638.85 L1886.05,560.15 M1847.40,638.85 A38.65,38.65 0 0 0 1924.70,638.85 M1886.05,560.15 A38.65,38.65 0 0 1 1963.35,560.15 M1886.05,560.15 L1924.70,638.85 M1924.70,638.85 L1963.35,560.15 M1924.70,638.85 A38.65,38.65 0 0 0 2002.00,638.85 M1963.35,560.15 A38.65,38.65 0 0 1 2040.65,560.15 M1963.35,560.15 L2002.00,638.85 M2002.00,638.85 L2040.65,560.15 M2002.00,638.85 A38.65,38.65 0 0 0 2079.30,638.85 M2040.65,560.15 A38.65,38.65 0 0 1 2117.95,560.15 M2040.65,560.15 L2079.30,638.85 M2079.30,638.85 L2117.95,560.15 M2079.30,638.85 A38.65,38.65 0 0 0 2156.60,638.85" fill="none" stroke="#2b2b2b" stroke-width="1.3"/>
<line x1="378.00" y1="193.00" x2="464.00" y2="193.00" stroke="#000" stroke-width="2.2" />
<line x1="378.00" y1="738.00" x2="463.70" y2="738.00" stroke="#000" stroke-width="2.2" />
<line x1="376.00" y1="187.00" x2="376.00" y2="253.50" stroke="#000" stroke-width="1.6" />
<line x1="376.00" y1="677.50" x2="376.00" y2="743.50" stroke="#000" stroke-width="1.6" />
<rect x="373" y="253.5" width="6.2" height="156.5" fill="#000"/>
<path d="M374.3,254.5 L377.4,256.7 L374.3,258.9 Z M378.2,259.2 L375.2,261.4 L378.2,263.6 Z M374.3,263.9 L377.4,266.1 L374.3,268.3 Z M378.2,268.6 L375.2,270.8 L378.2,273.0 Z M374.3,273.3 L377.4,275.5 L374.3,277.7 Z M378.2,278.0 L375.2,280.2 L378.2,282.4 Z M374.3,282.7 L377.4,284.9 L374.3,287.1 Z M378.2,287.4 L375.2,289.6 L378.2,291.8 Z M374.3,292.1 L377.4,294.3 L374.3,296.5 Z M378.2,296.8 L375.2,299.0 L378.2,301.2 Z M374.3,301.5 L377.4,303.7 L374.3,305.9 Z M378.2,306.2 L375.2,308.4 L378.2,310.6 Z M374.3,310.9 L377.4,313.1 L374.3,315.3 Z M378.2,315.6 L375.2,317.8 L378.2,320.0 Z M374.3,320.3 L377.4,322.5 L374.3,324.7 Z M378.2,325.0 L375.2,327.2 L378.2,329.4 Z M374.3,329.7 L377.4,331.9 L374.3,334.1 Z M378.2,334.4 L375.2,336.6 L378.2,338.8 Z M374.3,339.1 L377.4,341.3 L374.3,343.5 Z M378.2,343.8 L375.2,346.0 L378.2,348.2 Z M374.3,348.5 L377.4,350.7 L374.3,352.9 Z M378.2,353.2 L375.2,355.4 L378.2,357.6 Z M374.3,357.9 L377.4,360.1 L374.3,362.3 Z M378.2,362.6 L375.2,364.8 L378.2,367.0 Z M374.3,367.3 L377.4,369.5 L374.3,371.7 Z M378.2,372.0 L375.2,374.2 L378.2,376.4 Z M374.3,376.7 L377.4,378.9 L374.3,381.1 Z M378.2,381.4 L375.2,383.6 L378.2,385.8 Z M374.3,386.1 L377.4,388.3 L374.3,390.5 Z M378.2,390.8 L375.2,393.0 L378.2,395.2 Z M374.3,395.5 L377.4,397.7 L374.3,399.9 Z M378.2,400.2 L375.2,402.4 L378.2,404.6 Z M374.3,404.9 L377.4,407.1 L374.3,409.3 Z" fill="#fff"/>
<rect x="373" y="521.5" width="6.2" height="156.0" fill="#000"/>
<path d="M374.3,522.5 L377.4,524.7 L374.3,526.9 Z M378.2,527.2 L375.2,529.4 L378.2,531.6 Z M374.3,531.9 L377.4,534.1 L374.3,536.3 Z M378.2,536.6 L375.2,538.8 L378.2,541.0 Z M374.3,541.3 L377.4,543.5 L374.3,545.7 Z M378.2,546.0 L375.2,548.2 L378.2,550.4 Z M374.3,550.7 L377.4,552.9 L374.3,555.1 Z M378.2,555.4 L375.2,557.6 L378.2,559.8 Z M374.3,560.1 L377.4,562.3 L374.3,564.5 Z M378.2,564.8 L375.2,567.0 L378.2,569.2 Z M374.3,569.5 L377.4,571.7 L374.3,573.9 Z M378.2,574.2 L375.2,576.4 L378.2,578.6 Z M374.3,578.9 L377.4,581.1 L374.3,583.3 Z M378.2,583.6 L375.2,585.8 L378.2,588.0 Z M374.3,588.3 L377.4,590.5 L374.3,592.7 Z M378.2,593.0 L375.2,595.2 L378.2,597.4 Z M374.3,597.7 L377.4,599.9 L374.3,602.1 Z M378.2,602.4 L375.2,604.6 L378.2,606.8 Z M374.3,607.1 L377.4,609.3 L374.3,611.5 Z M378.2,611.8 L375.2,614.0 L378.2,616.2 Z M374.3,616.5 L377.4,618.7 L374.3,620.9 Z M378.2,621.2 L375.2,623.4 L378.2,625.6 Z M374.3,625.9 L377.4,628.1 L374.3,630.3 Z M378.2,630.6 L375.2,632.8 L378.2,635.0 Z M374.3,635.3 L377.4,637.5 L374.3,639.7 Z M378.2,640.0 L375.2,642.2 L378.2,644.4 Z M374.3,644.7 L377.4,646.9 L374.3,649.1 Z M378.2,649.4 L375.2,651.6 L378.2,653.8 Z M374.3,654.1 L377.4,656.3 L374.3,658.5 Z M378.2,658.8 L375.2,661.0 L378.2,663.2 Z M374.3,663.5 L377.4,665.7 L374.3,667.9 Z M378.2,668.2 L375.2,670.4 L378.2,672.6 Z M374.3,672.9 L377.4,675.1 L374.3,677.3 Z" fill="#fff"/>
<rect x="379" y="253.5" width="3" height="156.5" fill="#FFD811"/>
<path d="M483,266.5 L483,254.3 L380.4,254.3 L380.4,409.4 L476.8,409.4 L476.8,397" fill="none" stroke="#2a2a2a" stroke-width="2.4"/>
<path d="M380.4,275.8 L385.4,279.8 L385.4,290.3 L380.4,294.3" fill="none" stroke="#1a1a1a" stroke-width="1.6"/>
<path d="M379.4,278.8 L384.4,285.05 L379.4,291.3 M384.4,278.8 L379.4,285.05 L384.4,291.3" fill="none" stroke="#1a1a1a" stroke-width="1"/>
<path d="M380.4,368.3 L385.4,372.3 L385.4,382.8 L380.4,386.8" fill="none" stroke="#1a1a1a" stroke-width="1.6"/>
<path d="M379.4,371.3 L384.4,377.55 L379.4,383.8 M384.4,371.3 L379.4,377.55 L384.4,383.8" fill="none" stroke="#1a1a1a" stroke-width="1"/>
<rect x="379" y="521.5" width="3" height="156.0" fill="#FFD811"/>
<path d="M476.8,534.5 L476.8,522.3 L380.4,522.3 L380.4,676.9 L483,676.9 L483,664.5" fill="none" stroke="#2a2a2a" stroke-width="2.4"/>
<path d="M380.4,543.8 L385.4,547.8 L385.4,557.2 L380.4,561.2" fill="none" stroke="#1a1a1a" stroke-width="1.6"/>
<path d="M379.4,546.8 L384.4,552.5 L379.4,558.2 M384.4,546.8 L379.4,552.5 L384.4,558.2" fill="none" stroke="#1a1a1a" stroke-width="1"/>
<path d="M380.4,637.3 L385.4,641.3 L385.4,652.8 L380.4,656.8" fill="none" stroke="#1a1a1a" stroke-width="1.6"/>
<path d="M379.4,640.3 L384.4,647.05 L379.4,653.8 M384.4,640.3 L379.4,647.05 L384.4,653.8" fill="none" stroke="#1a1a1a" stroke-width="1"/>
<path d="M1042.5,266.5 L1042.5,254.3 L939.8,254.3 L939.8,278.0 L944.3,282.0 L944.3,289.0 L939.8,293.0 L939.8,368.0 L944.3,372.0 L944.3,386.8 L939.8,390.8 L939.8,409.4 L1036,409.4 L1036,397" fill="none" stroke="#1e1e1e" stroke-width="2"/>
<path d="M1457,266.5 L1457,254.3 L1354,254.3 L1354,278.0 L1358.5,282.0 L1358.5,289.0 L1354,293.0 L1354,368.0 L1358.5,372.0 L1358.5,386.8 L1354,390.8 L1354,409.4 L1450.4,409.4 L1450.4,397" fill="none" stroke="#1e1e1e" stroke-width="2"/>
<path d="M1043.5,534.5 L1043.5,522.3 L939.7,522.3 L939.7,546.0 L944.2,550.0 L944.2,557.0 L939.7,561.0 L939.7,636.0 L944.2,640.0 L944.2,654.8 L939.7,658.8 L939.7,676.9 L1035.7,676.9 L1035.7,664.5" fill="none" stroke="#1e1e1e" stroke-width="2"/>
<path d="M1457.5,534.5 L1457.5,522.3 L1353.7,522.3 L1353.7,546.0 L1358.2,550.0 L1358.2,557.0 L1353.7,561.0 L1353.7,636.0 L1358.2,640.0 L1358.2,654.8 L1353.7,658.8 L1353.7,676.9 L1450.4,676.9 L1450.4,664.5" fill="none" stroke="#1e1e1e" stroke-width="2"/>
<path d="M399.4,254.3 L402.0,257.5 L404.4,257.5 L407.0,254.3 M426.9,254.3 L429.5,257.5 L431.9,257.5 L434.5,254.3 M453.9,254.3 L456.5,257.5 L458.9,257.5 L461.5,254.3 M399.4,409.4 L402.0,406.2 L404.4,406.2 L407.0,409.4 M426.9,409.4 L429.5,406.2 L431.9,406.2 L434.5,409.4 M453.9,409.4 L456.5,406.2 L458.9,406.2 L461.5,409.4" fill="none" stroke="#1e1e1e" stroke-width="1.6"/>
<path d="M958.8,254.3 L961.4,257.5 L963.8,257.5 L966.4,254.3 M986.3,254.3 L988.9,257.5 L991.3,257.5 L993.9,254.3 M1013.3,254.3 L1015.9,257.5 L1018.3,257.5 L1020.9,254.3 M958.8,409.4 L961.4,406.2 L963.8,406.2 L966.4,409.4 M986.3,409.4 L988.9,406.2 L991.3,406.2 L993.9,409.4 M1013.3,409.4 L1015.9,406.2 L1018.3,406.2 L1020.9,409.4" fill="none" stroke="#1e1e1e" stroke-width="1.6"/>
<path d="M1373.0,254.3 L1375.6,257.5 L1378.0,257.5 L1380.6,254.3 M1400.5,254.3 L1403.1,257.5 L1405.5,257.5 L1408.1,254.3 M1427.5,254.3 L1430.1,257.5 L1432.5,257.5 L1435.1,254.3 M1373.0,409.4 L1375.6,406.2 L1378.0,406.2 L1380.6,409.4 M1400.5,409.4 L1403.1,406.2 L1405.5,406.2 L1408.1,409.4 M1427.5,409.4 L1430.1,406.2 L1432.5,406.2 L1435.1,409.4" fill="none" stroke="#1e1e1e" stroke-width="1.6"/>
<path d="M399.4,522.3 L402.0,525.5 L404.4,525.5 L407.0,522.3 M426.9,522.3 L429.5,525.5 L431.9,525.5 L434.5,522.3 M453.9,522.3 L456.5,525.5 L458.9,525.5 L461.5,522.3 M399.4,676.9 L402.0,673.6999999999999 L404.4,673.6999999999999 L407.0,676.9 M426.9,676.9 L429.5,673.6999999999999 L431.9,673.6999999999999 L434.5,676.9 M453.9,676.9 L456.5,673.6999999999999 L458.9,673.6999999999999 L461.5,676.9" fill="none" stroke="#1e1e1e" stroke-width="1.6"/>
<path d="M958.7,522.3 L961.3,525.5 L963.7,525.5 L966.3,522.3 M986.2,522.3 L988.8,525.5 L991.2,525.5 L993.8,522.3 M1013.2,522.3 L1015.8,525.5 L1018.2,525.5 L1020.8,522.3 M958.7,676.9 L961.3,673.6999999999999 L963.7,673.6999999999999 L966.3,676.9 M986.2,676.9 L988.8,673.6999999999999 L991.2,673.6999999999999 L993.8,676.9 M1013.2,676.9 L1015.8,673.6999999999999 L1018.2,673.6999999999999 L1020.8,676.9" fill="none" stroke="#1e1e1e" stroke-width="1.6"/>
<path d="M1372.7,522.3 L1375.3,525.5 L1377.7,525.5 L1380.3,522.3 M1400.2,522.3 L1402.8,525.5 L1405.2,525.5 L1407.8,522.3 M1427.2,522.3 L1429.8,525.5 L1432.2,525.5 L1434.8,522.3 M1372.7,676.9 L1375.3,673.6999999999999 L1377.7,673.6999999999999 L1380.3,676.9 M1400.2,676.9 L1402.8,673.6999999999999 L1405.2,673.6999999999999 L1407.8,676.9 M1427.2,676.9 L1429.8,673.6999999999999 L1432.2,673.6999999999999 L1434.8,676.9" fill="none" stroke="#1e1e1e" stroke-width="1.6"/>
<path d="M383.4,291.2 L405,331.3 L386.4,331.3" fill="none" stroke="#222" stroke-width="1.3"/>
<path d="M383.4,559.2 L405,599.3 L386.4,599.3" fill="none" stroke="#222" stroke-width="1.3"/>
<path d="M901,195.8 L1075,195.8 L1072,199.5 L904,199.5 Z" fill="#141414"/>
<line x1="906" y1="197.65" x2="1070" y2="197.65" stroke="#666" stroke-width="0.5" stroke-dasharray="1.5 4"/>
<path d="M1316,222.2 L1491,222.2 L1488,226.1 L1319,226.1 Z" fill="#141414"/>
<line x1="1321" y1="224.15" x2="1486" y2="224.15" stroke="#666" stroke-width="0.5" stroke-dasharray="1.5 4"/>
<path d="M904,705 L1073,705 L1076,708.6 L901,708.6 Z" fill="#141414"/>
<line x1="906" y1="706.80" x2="1071" y2="706.80" stroke="#666" stroke-width="0.5" stroke-dasharray="1.5 4"/>
<path d="M1318.7,731.9 L1488.5,731.9 L1491.5,735.4 L1315.7,735.4 Z" fill="#141414"/>
<line x1="1320.7" y1="733.65" x2="1486.5" y2="733.65" stroke="#666" stroke-width="0.5" stroke-dasharray="1.5 4"/>
<line x1="988.60" y1="196.50" x2="988.60" y2="223.00" stroke="#111" stroke-width="1.3" />
<line x1="1403.30" y1="223.00" x2="1403.30" y2="249.50" stroke="#111" stroke-width="1.3" />
<line x1="988.40" y1="681.50" x2="988.40" y2="708.00" stroke="#111" stroke-width="1.3" />
<line x1="1403.00" y1="708.00" x2="1403.00" y2="734.50" stroke="#111" stroke-width="1.3" />
<path d="M450.6,196.5 L468.6,196.5 Q463.6,197.7 462.70000000000005,202.5 L456.5,202.5 Q455.6,197.7 450.6,196.5 Z" fill="#8a8a8a" stroke="#111" stroke-width="1"/><path d="M456.6,201.5 L456.6,211.5 M462.6,201.5 L462.6,211.5" stroke="#111" stroke-width="1.1" fill="none"/><path d="M455.50,210.50 L456.80,212.10 L455.50,213.70 L456.80,215.30 L455.50,216.90 L456.80,218.50 L455.50,220.10 L456.80,221.70 L455.50,223.30 L456.80,224.90 L455.50,226.50 L456.80,228.10 L455.50,229.70 L456.80,231.30 L455.50,232.90 L456.80,234.50 L455.50,236.10 L456.80,237.70 L455.50,239.30 L456.80,240.90 L455.50,242.50 L456.80,244.10 L455.50,245.70 L456.80,247.30 L455.50,248.90 L456.80,250.50 L455.52,252.10 L457.19,253.70 L456.25,255.30 L457.92,256.90 L456.98,258.50 L458.65,260.10 L457.71,261.70 L459.37,263.30 L458.44,264.90 L459.40,266.50 L459.17,268.10 L459.40,269.70 L459.6,270.0 L459.80,269.70 L460.03,268.10 L459.80,266.50 L460.76,264.90 L459.83,263.30 L461.49,261.70 L460.56,260.10 L462.22,258.50 L461.28,256.90 L462.95,255.30 L462.01,253.70 L463.68,252.10 L462.40,250.50 L463.70,248.90 L462.40,247.30 L463.70,245.70 L462.40,244.10 L463.70,242.50 L462.40,240.90 L463.70,239.30 L462.40,237.70 L463.70,236.10 L462.40,234.50 L463.70,232.90 L462.40,231.30 L463.70,229.70 L462.40,228.10 L463.70,226.50 L462.40,224.90 L463.70,223.30 L462.40,221.70 L463.70,220.10 L462.40,218.50 L463.70,216.90 L462.40,215.30 L463.70,213.70 L462.40,212.10 L463.70,210.50 Z" fill="#d6d6d6" stroke="#111" stroke-width="1.1" stroke-linejoin="miter"/><path d="M455.5,213.5 L463.7,210.5 M455.5,216.7 L463.7,213.7 M455.5,219.9 L463.7,216.9 M455.5,223.1 L463.7,220.1 M455.5,226.3 L463.7,223.3 M455.5,229.5 L463.7,226.5 M455.5,232.7 L463.7,229.7 M455.5,235.9 L463.7,232.9 M455.5,239.1 L463.7,236.1 M455.5,242.3 L463.7,239.3 M455.5,245.5 L463.7,242.5 M455.5,248.7 L463.7,245.7 M455.5,251.9 L463.7,248.9 M455.9,255.1 L463.3,252.1 M456.6,258.3 L462.6,255.3 M457.3,261.5 L461.9,258.5 M458.1,264.7 L461.1,261.7 M458.8,267.9 L460.4,264.9" stroke="#111" stroke-width="1.4" fill="none"/><rect x="455.0" y="248.5" width="9.2" height="9.0" fill="#111"/>
<path d="M430,223 L448,223 Q443,224.2 442.1,229 L435.9,229 Q435,224.2 430,223 Z" fill="#8a8a8a" stroke="#111" stroke-width="1"/><path d="M436,228 L436,238 M442,228 L442,238" stroke="#111" stroke-width="1.1" fill="none"/><path d="M434.90,237.00 L436.20,238.60 L434.90,240.20 L436.20,241.80 L434.90,243.40 L436.20,245.00 L434.90,246.60 L436.20,248.20 L434.90,249.80 L436.20,251.40 L434.90,253.00 L436.20,254.60 L434.90,256.20 L436.29,257.80 L435.36,259.40 L437.02,261.00 L436.08,262.60 L437.75,264.20 L436.81,265.80 L438.48,267.40 L437.54,269.00 L438.80,270.60 L438.27,272.20 L438.80,273.80 L439,275.4 L439.20,273.80 L439.73,272.20 L439.20,270.60 L440.46,269.00 L439.52,267.40 L441.19,265.80 L440.25,264.20 L441.92,262.60 L440.98,261.00 L442.64,259.40 L441.71,257.80 L443.10,256.20 L441.80,254.60 L443.10,253.00 L441.80,251.40 L443.10,249.80 L441.80,248.20 L443.10,246.60 L441.80,245.00 L443.10,243.40 L441.80,241.80 L443.10,240.20 L441.80,238.60 L443.10,237.00 Z" fill="#d6d6d6" stroke="#111" stroke-width="1.1" stroke-linejoin="miter"/><path d="M434.9,240.0 L443.1,237.0 M434.9,243.2 L443.1,240.2 M434.9,246.4 L443.1,243.4 M434.9,249.6 L443.1,246.6 M434.9,252.8 L443.1,249.8 M434.9,256.0 L443.1,253.0 M435.0,259.2 L443.0,256.2 M435.7,262.4 L442.3,259.4 M436.4,265.6 L441.6,262.6 M437.2,268.8 L440.8,265.8 M437.9,272.0 L440.1,269.0" stroke="#111" stroke-width="1.4" fill="none"/><rect x="434.4" y="248.5" width="9.2" height="9.0" fill="#111"/>
<path d="M958.5,196.5 L976.5,196.5 Q971.5,197.7 970.6,202.5 L964.4,202.5 Q963.5,197.7 958.5,196.5 Z" fill="#8a8a8a" stroke="#111" stroke-width="1"/><path d="M964.5,201.5 L964.5,211.5 M970.5,201.5 L970.5,211.5" stroke="#111" stroke-width="1.1" fill="none"/><path d="M963.40,210.50 L964.70,212.10 L963.40,213.70 L964.70,215.30 L963.40,216.90 L964.70,218.50 L963.40,220.10 L964.70,221.70 L963.40,223.30 L964.70,224.90 L963.40,226.50 L964.70,228.10 L963.40,229.70 L964.70,231.30 L963.40,232.90 L964.70,234.50 L963.40,236.10 L964.70,237.70 L963.40,239.30 L964.70,240.90 L963.40,242.50 L964.70,244.10 L963.40,245.70 L964.70,247.30 L963.40,248.90 L964.70,250.50 L963.40,252.10 L964.70,253.70 L963.56,255.30 L965.22,256.90 L964.29,258.50 L965.95,260.10 L965.02,261.70 L966.68,263.30 L965.75,264.90 L967.30,266.50 L966.48,268.10 L967.30,269.70 L967.20,271.30 L967.5,272.6 L967.80,271.30 L967.70,269.70 L968.52,268.10 L967.70,266.50 L969.25,264.90 L968.32,263.30 L969.98,261.70 L969.05,260.10 L970.71,258.50 L969.78,256.90 L971.44,255.30 L970.30,253.70 L971.60,252.10 L970.30,250.50 L971.60,248.90 L970.30,247.30 L971.60,245.70 L970.30,244.10 L971.60,242.50 L970.30,240.90 L971.60,239.30 L970.30,237.70 L971.60,236.10 L970.30,234.50 L971.60,232.90 L970.30,231.30 L971.60,229.70 L970.30,228.10 L971.60,226.50 L970.30,224.90 L971.60,223.30 L970.30,221.70 L971.60,220.10 L970.30,218.50 L971.60,216.90 L970.30,215.30 L971.60,213.70 L970.30,212.10 L971.60,210.50 Z" fill="#d6d6d6" stroke="#111" stroke-width="1.1" stroke-linejoin="miter"/><path d="M963.4,213.5 L971.6,210.5 M963.4,216.7 L971.6,213.7 M963.4,219.9 L971.6,216.9 M963.4,223.1 L971.6,220.1 M963.4,226.3 L971.6,223.3 M963.4,229.5 L971.6,226.5 M963.4,232.7 L971.6,229.7 M963.4,235.9 L971.6,232.9 M963.4,239.1 L971.6,236.1 M963.4,242.3 L971.6,239.3 M963.4,245.5 L971.6,242.5 M963.4,248.7 L971.6,245.7 M963.4,251.9 L971.6,248.9 M963.4,255.1 L971.6,252.1 M963.9,258.3 L971.1,255.3 M964.6,261.5 L970.4,258.5 M965.4,264.7 L969.6,261.7 M966.1,267.9 L968.9,264.9 M966.8,271.1 L968.2,268.1" stroke="#111" stroke-width="1.4" fill="none"/><rect x="962.9" y="248.5" width="9.2" height="9.0" fill="#111"/>
<path d="M1010.4,196.5 L1028.4,196.5 Q1023.4,197.7 1022.5,202.5 L1016.3,202.5 Q1015.4,197.7 1010.4,196.5 Z" fill="#8a8a8a" stroke="#111" stroke-width="1"/><path d="M1016.4,201.5 L1016.4,211.5 M1022.4,201.5 L1022.4,211.5" stroke="#111" stroke-width="1.1" fill="none"/><path d="M1015.30,210.50 L1016.60,212.10 L1015.30,213.70 L1016.60,215.30 L1015.30,216.90 L1016.60,218.50 L1015.30,220.10 L1016.60,221.70 L1015.30,223.30 L1016.60,224.90 L1015.30,226.50 L1016.60,228.10 L1015.30,229.70 L1016.60,231.30 L1015.30,232.90 L1016.60,234.50 L1015.30,236.10 L1016.60,237.70 L1015.30,239.30 L1016.60,240.90 L1015.30,242.50 L1016.60,244.10 L1015.30,245.70 L1016.60,247.30 L1015.30,248.90 L1016.60,250.50 L1015.30,252.10 L1016.60,253.70 L1015.46,255.30 L1017.12,256.90 L1016.19,258.50 L1017.85,260.10 L1016.92,261.70 L1018.58,263.30 L1017.65,264.90 L1019.20,266.50 L1018.38,268.10 L1019.20,269.70 L1019.10,271.30 L1019.4,272.6 L1019.70,271.30 L1019.60,269.70 L1020.42,268.10 L1019.60,266.50 L1021.15,264.90 L1020.22,263.30 L1021.88,261.70 L1020.95,260.10 L1022.61,258.50 L1021.68,256.90 L1023.34,255.30 L1022.20,253.70 L1023.50,252.10 L1022.20,250.50 L1023.50,248.90 L1022.20,247.30 L1023.50,245.70 L1022.20,244.10 L1023.50,242.50 L1022.20,240.90 L1023.50,239.30 L1022.20,237.70 L1023.50,236.10 L1022.20,234.50 L1023.50,232.90 L1022.20,231.30 L1023.50,229.70 L1022.20,228.10 L1023.50,226.50 L1022.20,224.90 L1023.50,223.30 L1022.20,221.70 L1023.50,220.10 L1022.20,218.50 L1023.50,216.90 L1022.20,215.30 L1023.50,213.70 L1022.20,212.10 L1023.50,210.50 Z" fill="#d6d6d6" stroke="#111" stroke-width="1.1" stroke-linejoin="miter"/><path d="M1015.3,213.5 L1023.5,210.5 M1015.3,216.7 L1023.5,213.7 M1015.3,219.9 L1023.5,216.9 M1015.3,223.1 L1023.5,220.1 M1015.3,226.3 L1023.5,223.3 M1015.3,229.5 L1023.5,226.5 M1015.3,232.7 L1023.5,229.7 M1015.3,235.9 L1023.5,232.9 M1015.3,239.1 L1023.5,236.1 M1015.3,242.3 L1023.5,239.3 M1015.3,245.5 L1023.5,242.5 M1015.3,248.7 L1023.5,245.7 M1015.3,251.9 L1023.5,248.9 M1015.3,255.1 L1023.5,252.1 M1015.8,258.3 L1023.0,255.3 M1016.5,261.5 L1022.3,258.5 M1017.3,264.7 L1021.5,261.7 M1018.0,267.9 L1020.8,264.9 M1018.7,271.1 L1020.1,268.1" stroke="#111" stroke-width="1.4" fill="none"/><rect x="1014.8" y="248.5" width="9.2" height="9.0" fill="#111"/>
<path d="M986.3,223 L1004.3,223 Q999.3,224.2 998.4,229 L992.1999999999999,229 Q991.3,224.2 986.3,223 Z" fill="#8a8a8a" stroke="#111" stroke-width="1"/><path d="M992.3,228 L992.3,238 M998.3,228 L998.3,238" stroke="#111" stroke-width="1.1" fill="none"/><path d="M991.20,237.00 L992.50,238.60 L991.20,240.20 L992.50,241.80 L991.20,243.40 L992.50,245.00 L991.20,246.60 L992.50,248.20 L991.20,249.80 L992.50,251.40 L991.20,253.00 L992.50,254.60 L991.20,256.20 L992.55,257.80 L991.61,259.40 L993.27,261.00 L992.34,262.60 L994.00,264.20 L993.07,265.80 L994.73,267.40 L993.80,269.00 L995.10,270.60 L994.53,272.20 L995.10,273.80 L995.00,275.40 L995.3,275.6 L995.60,275.40 L995.50,273.80 L996.07,272.20 L995.50,270.60 L996.80,269.00 L995.87,267.40 L997.53,265.80 L996.60,264.20 L998.26,262.60 L997.33,261.00 L998.99,259.40 L998.05,257.80 L999.40,256.20 L998.10,254.60 L999.40,253.00 L998.10,251.40 L999.40,249.80 L998.10,248.20 L999.40,246.60 L998.10,245.00 L999.40,243.40 L998.10,241.80 L999.40,240.20 L998.10,238.60 L999.40,237.00 Z" fill="#d6d6d6" stroke="#111" stroke-width="1.1" stroke-linejoin="miter"/><path d="M991.2,240.0 L999.4,237.0 M991.2,243.2 L999.4,240.2 M991.2,246.4 L999.4,243.4 M991.2,249.6 L999.4,246.6 M991.2,252.8 L999.4,249.8 M991.2,256.0 L999.4,253.0 M991.2,259.2 L999.4,256.2 M992.0,262.4 L998.6,259.4 M992.7,265.6 L997.9,262.6 M993.4,268.8 L997.2,265.8 M994.1,272.0 L996.5,269.0" stroke="#111" stroke-width="1.4" fill="none"/><rect x="990.6999999999999" y="248.5" width="9.2" height="9.0" fill="#111"/>
<path d="M1386.2,197 L1404.2,197 Q1399.2,198.2 1398.3,203 L1392.1000000000001,203 Q1391.2,198.2 1386.2,197 Z" fill="#8a8a8a" stroke="#111" stroke-width="1"/><path d="M1392.2,202 L1392.2,212 M1398.2,202 L1398.2,212" stroke="#111" stroke-width="1.1" fill="none"/><path d="M1391.10,211.00 L1392.40,212.60 L1391.10,214.20 L1392.40,215.80 L1391.10,217.40 L1392.40,219.00 L1391.10,220.60 L1392.40,222.20 L1391.10,223.80 L1392.40,225.40 L1391.10,227.00 L1392.40,228.60 L1391.10,230.20 L1392.40,231.80 L1391.10,233.40 L1392.40,235.00 L1391.10,236.60 L1392.40,238.20 L1391.10,239.80 L1392.40,241.40 L1391.10,243.00 L1392.40,244.60 L1391.10,246.20 L1392.40,247.80 L1391.10,249.40 L1392.40,251.00 L1391.10,252.60 L1392.67,254.20 L1391.74,255.80 L1393.40,257.40 L1392.47,259.00 L1394.13,260.60 L1393.20,262.20 L1394.86,263.80 L1393.92,265.40 L1395.00,267.00 L1394.65,268.60 L1395.00,270.20 L1395.2,271 L1395.40,270.20 L1395.75,268.60 L1395.40,267.00 L1396.48,265.40 L1395.54,263.80 L1397.20,262.20 L1396.27,260.60 L1397.93,259.00 L1397.00,257.40 L1398.66,255.80 L1397.73,254.20 L1399.30,252.60 L1398.00,251.00 L1399.30,249.40 L1398.00,247.80 L1399.30,246.20 L1398.00,244.60 L1399.30,243.00 L1398.00,241.40 L1399.30,239.80 L1398.00,238.20 L1399.30,236.60 L1398.00,235.00 L1399.30,233.40 L1398.00,231.80 L1399.30,230.20 L1398.00,228.60 L1399.30,227.00 L1398.00,225.40 L1399.30,223.80 L1398.00,222.20 L1399.30,220.60 L1398.00,219.00 L1399.30,217.40 L1398.00,215.80 L1399.30,214.20 L1398.00,212.60 L1399.30,211.00 Z" fill="#d6d6d6" stroke="#111" stroke-width="1.1" stroke-linejoin="miter"/><path d="M1391.1,214.0 L1399.3,211.0 M1391.1,217.2 L1399.3,214.2 M1391.1,220.4 L1399.3,217.4 M1391.1,223.6 L1399.3,220.6 M1391.1,226.8 L1399.3,223.8 M1391.1,230.0 L1399.3,227.0 M1391.1,233.2 L1399.3,230.2 M1391.1,236.4 L1399.3,233.4 M1391.1,239.6 L1399.3,236.6 M1391.1,242.8 L1399.3,239.8 M1391.1,246.0 L1399.3,243.0 M1391.1,249.2 L1399.3,246.2 M1391.1,252.4 L1399.3,249.4 M1391.4,255.6 L1399.0,252.6 M1392.1,258.8 L1398.3,255.8 M1392.8,262.0 L1397.6,259.0 M1393.5,265.2 L1396.9,262.2 M1394.3,268.4 L1396.1,265.4" stroke="#111" stroke-width="1.4" fill="none"/><rect x="1390.6000000000001" y="248.5" width="9.2" height="9.0" fill="#111"/>
<path d="M1362.4,223 L1380.4,223 Q1375.4,224.2 1374.5,229 L1368.3000000000002,229 Q1367.4,224.2 1362.4,223 Z" fill="#8a8a8a" stroke="#111" stroke-width="1"/><path d="M1368.4,228 L1368.4,238 M1374.4,228 L1374.4,238" stroke="#111" stroke-width="1.1" fill="none"/><path d="M1367.30,237.00 L1368.60,238.60 L1367.30,240.20 L1368.60,241.80 L1367.30,243.40 L1368.60,245.00 L1367.30,246.60 L1368.60,248.20 L1367.30,249.80 L1368.60,251.40 L1367.30,253.00 L1368.60,254.60 L1367.30,256.20 L1368.78,257.80 L1367.85,259.40 L1369.51,261.00 L1368.58,262.60 L1370.24,264.20 L1369.30,265.80 L1370.97,267.40 L1370.03,269.00 L1371.20,270.60 L1370.76,272.20 L1371.20,273.80 L1371.4,275 L1371.60,273.80 L1372.04,272.20 L1371.60,270.60 L1372.77,269.00 L1371.83,267.40 L1373.50,265.80 L1372.56,264.20 L1374.22,262.60 L1373.29,261.00 L1374.95,259.40 L1374.02,257.80 L1375.50,256.20 L1374.20,254.60 L1375.50,253.00 L1374.20,251.40 L1375.50,249.80 L1374.20,248.20 L1375.50,246.60 L1374.20,245.00 L1375.50,243.40 L1374.20,241.80 L1375.50,240.20 L1374.20,238.60 L1375.50,237.00 Z" fill="#d6d6d6" stroke="#111" stroke-width="1.1" stroke-linejoin="miter"/><path d="M1367.3,240.0 L1375.5,237.0 M1367.3,243.2 L1375.5,240.2 M1367.3,246.4 L1375.5,243.4 M1367.3,249.6 L1375.5,246.6 M1367.3,252.8 L1375.5,249.8 M1367.3,256.0 L1375.5,253.0 M1367.5,259.2 L1375.3,256.2 M1368.2,262.4 L1374.6,259.4 M1368.9,265.6 L1373.9,262.6 M1369.6,268.8 L1373.2,265.8 M1370.4,272.0 L1372.4,269.0" stroke="#111" stroke-width="1.4" fill="none"/><rect x="1366.8000000000002" y="248.5" width="9.2" height="9.0" fill="#111"/>
<path d="M1415.3,223 L1433.3,223 Q1428.3,224.2 1427.3999999999999,229 L1421.2,229 Q1420.3,224.2 1415.3,223 Z" fill="#8a8a8a" stroke="#111" stroke-width="1"/><path d="M1421.3,228 L1421.3,238 M1427.3,228 L1427.3,238" stroke="#111" stroke-width="1.1" fill="none"/><path d="M1420.20,237.00 L1421.50,238.60 L1420.20,240.20 L1421.50,241.80 L1420.20,243.40 L1421.50,245.00 L1420.20,246.60 L1421.50,248.20 L1420.20,249.80 L1421.50,251.40 L1420.20,253.00 L1421.50,254.60 L1420.20,256.20 L1421.50,257.80 L1420.54,259.40 L1422.21,261.00 L1421.27,262.60 L1422.93,264.20 L1422.00,265.80 L1423.66,267.40 L1422.73,269.00 L1424.10,270.60 L1423.46,272.20 L1424.10,273.80 L1424.00,275.40 L1424.3,275.9 L1424.60,275.40 L1424.50,273.80 L1425.14,272.20 L1424.50,270.60 L1425.87,269.00 L1424.94,267.40 L1426.60,265.80 L1425.66,264.20 L1427.33,262.60 L1426.39,261.00 L1428.06,259.40 L1427.10,257.80 L1428.40,256.20 L1427.10,254.60 L1428.40,253.00 L1427.10,251.40 L1428.40,249.80 L1427.10,248.20 L1428.40,246.60 L1427.10,245.00 L1428.40,243.40 L1427.10,241.80 L1428.40,240.20 L1427.10,238.60 L1428.40,237.00 Z" fill="#d6d6d6" stroke="#111" stroke-width="1.1" stroke-linejoin="miter"/><path d="M1420.2,240.0 L1428.4,237.0 M1420.2,243.2 L1428.4,240.2 M1420.2,246.4 L1428.4,243.4 M1420.2,249.6 L1428.4,246.6 M1420.2,252.8 L1428.4,249.8 M1420.2,256.0 L1428.4,253.0 M1420.2,259.2 L1428.4,256.2 M1420.9,262.4 L1427.7,259.4 M1421.6,265.6 L1427.0,262.6 M1422.3,268.8 L1426.3,265.8 M1423.1,272.0 L1425.5,269.0 M1423.8,275.2 L1424.8,272.2" stroke="#111" stroke-width="1.4" fill="none"/><rect x="1419.7" y="248.5" width="9.2" height="9.0" fill="#111"/>
<path d="M416.5,708 L434.5,708 Q429.5,706.8 428.6,702 L422.4,702 Q421.5,706.8 416.5,708 Z" fill="#8a8a8a" stroke="#111" stroke-width="1"/><path d="M422.5,703 L422.5,693 M428.5,703 L428.5,693" stroke="#111" stroke-width="1.1" fill="none"/><path d="M421.40,694.00 L422.70,692.40 L421.40,690.80 L422.70,689.20 L421.40,687.60 L422.70,686.00 L421.40,684.40 L422.70,682.80 L421.40,681.20 L422.70,679.60 L421.40,678.00 L422.70,676.40 L421.40,674.80 L422.84,673.20 L421.90,671.60 L423.57,670.00 L422.63,668.40 L424.29,666.80 L423.36,665.20 L425.02,663.60 L424.09,662.00 L425.30,660.40 L424.82,658.80 L425.30,657.20 L425.5,655.8 L425.70,657.20 L426.18,658.80 L425.70,660.40 L426.91,662.00 L425.98,663.60 L427.64,665.20 L426.71,666.80 L428.37,668.40 L427.43,670.00 L429.10,671.60 L428.16,673.20 L429.60,674.80 L428.30,676.40 L429.60,678.00 L428.30,679.60 L429.60,681.20 L428.30,682.80 L429.60,684.40 L428.30,686.00 L429.60,687.60 L428.30,689.20 L429.60,690.80 L428.30,692.40 L429.60,694.00 Z" fill="#d6d6d6" stroke="#111" stroke-width="1.1" stroke-linejoin="miter"/><path d="M421.4,691.0 L429.6,694.0 M421.4,687.8 L429.6,690.8 M421.4,684.6 L429.6,687.6 M421.4,681.4 L429.6,684.4 M421.4,678.2 L429.6,681.2 M421.4,675.0 L429.6,678.0 M421.5,671.8 L429.5,674.8 M422.2,668.6 L428.8,671.6 M423.0,665.4 L428.0,668.4 M423.7,662.2 L427.3,665.2 M424.4,659.0 L426.6,662.0" stroke="#111" stroke-width="1.4" fill="none"/>
<path d="M437.5,734.5 L455.5,734.5 Q450.5,733.3 449.6,728.5 L443.4,728.5 Q442.5,733.3 437.5,734.5 Z" fill="#8a8a8a" stroke="#111" stroke-width="1"/><path d="M443.5,729.5 L443.5,719.5 M449.5,729.5 L449.5,719.5" stroke="#111" stroke-width="1.1" fill="none"/><path d="M442.40,720.50 L443.70,718.90 L442.40,717.30 L443.70,715.70 L442.40,714.10 L443.70,712.50 L442.40,710.90 L443.70,709.30 L442.40,707.70 L443.70,706.10 L442.40,704.50 L443.70,702.90 L442.40,701.30 L443.70,699.70 L442.40,698.10 L443.70,696.50 L442.40,694.90 L443.70,693.30 L442.40,691.70 L443.70,690.10 L442.40,688.50 L443.70,686.90 L442.40,685.30 L443.70,683.70 L442.40,682.10 L443.70,680.50 L442.42,678.90 L444.09,677.30 L443.15,675.70 L444.82,674.10 L443.88,672.50 L445.55,670.90 L444.61,669.30 L446.27,667.70 L445.34,666.10 L446.30,664.50 L446.07,662.90 L446.30,661.30 L446.5,661.0 L446.70,661.30 L446.93,662.90 L446.70,664.50 L447.66,666.10 L446.73,667.70 L448.39,669.30 L447.45,670.90 L449.12,672.50 L448.18,674.10 L449.85,675.70 L448.91,677.30 L450.58,678.90 L449.30,680.50 L450.60,682.10 L449.30,683.70 L450.60,685.30 L449.30,686.90 L450.60,688.50 L449.30,690.10 L450.60,691.70 L449.30,693.30 L450.60,694.90 L449.30,696.50 L450.60,698.10 L449.30,699.70 L450.60,701.30 L449.30,702.90 L450.60,704.50 L449.30,706.10 L450.60,707.70 L449.30,709.30 L450.60,710.90 L449.30,712.50 L450.60,714.10 L449.30,715.70 L450.60,717.30 L449.30,718.90 L450.60,720.50 Z" fill="#d6d6d6" stroke="#111" stroke-width="1.1" stroke-linejoin="miter"/><path d="M442.4,717.5 L450.6,720.5 M442.4,714.3 L450.6,717.3 M442.4,711.1 L450.6,714.1 M442.4,707.9 L450.6,710.9 M442.4,704.7 L450.6,707.7 M442.4,701.5 L450.6,704.5 M442.4,698.3 L450.6,701.3 M442.4,695.1 L450.6,698.1 M442.4,691.9 L450.6,694.9 M442.4,688.7 L450.6,691.7 M442.4,685.5 L450.6,688.5 M442.4,682.3 L450.6,685.3 M442.4,679.1 L450.6,682.1 M442.8,675.9 L450.2,678.9 M443.5,672.7 L449.5,675.7 M444.2,669.5 L448.8,672.5 M445.0,666.3 L448.0,669.3 M445.7,663.1 L447.3,666.1" stroke="#111" stroke-width="1.4" fill="none"/>
<path d="M956.7,708 L974.7,708 Q969.7,706.8 968.8000000000001,702 L962.6,702 Q961.7,706.8 956.7,708 Z" fill="#8a8a8a" stroke="#111" stroke-width="1"/><path d="M962.7,703 L962.7,693 M968.7,703 L968.7,693" stroke="#111" stroke-width="1.1" fill="none"/><path d="M961.60,694.00 L962.90,692.40 L961.60,690.80 L962.90,689.20 L961.60,687.60 L962.90,686.00 L961.60,684.40 L962.90,682.80 L961.60,681.20 L962.90,679.60 L961.60,678.00 L962.90,676.40 L961.60,674.80 L962.90,673.20 L961.65,671.60 L963.31,670.00 L962.37,668.40 L964.04,666.80 L963.10,665.20 L964.77,663.60 L963.83,662.00 L965.50,660.40 L964.56,658.80 L965.50,657.20 L965.29,655.60 L965.50,654.00 L965.7,653.8 L965.90,654.00 L966.11,655.60 L965.90,657.20 L966.84,658.80 L965.90,660.40 L967.57,662.00 L966.63,663.60 L968.30,665.20 L967.36,666.80 L969.03,668.40 L968.09,670.00 L969.75,671.60 L968.50,673.20 L969.80,674.80 L968.50,676.40 L969.80,678.00 L968.50,679.60 L969.80,681.20 L968.50,682.80 L969.80,684.40 L968.50,686.00 L969.80,687.60 L968.50,689.20 L969.80,690.80 L968.50,692.40 L969.80,694.00 Z" fill="#d6d6d6" stroke="#111" stroke-width="1.1" stroke-linejoin="miter"/><path d="M961.6,691.0 L969.8,694.0 M961.6,687.8 L969.8,690.8 M961.6,684.6 L969.8,687.6 M961.6,681.4 L969.8,684.4 M961.6,678.2 L969.8,681.2 M961.6,675.0 L969.8,678.0 M961.6,671.8 L969.8,674.8 M962.0,668.6 L969.4,671.6 M962.7,665.4 L968.7,668.4 M963.4,662.2 L968.0,665.2 M964.2,659.0 L967.2,662.0 M964.9,655.8 L966.5,658.8" stroke="#111" stroke-width="1.4" fill="none"/>
<path d="M1008,708 L1026,708 Q1021,706.8 1020.1,702 L1013.9,702 Q1013,706.8 1008,708 Z" fill="#8a8a8a" stroke="#111" stroke-width="1"/><path d="M1014,703 L1014,693 M1020,703 L1020,693" stroke="#111" stroke-width="1.1" fill="none"/><path d="M1012.90,694.00 L1014.20,692.40 L1012.90,690.80 L1014.20,689.20 L1012.90,687.60 L1014.20,686.00 L1012.90,684.40 L1014.20,682.80 L1012.90,681.20 L1014.20,679.60 L1012.90,678.00 L1014.20,676.40 L1012.90,674.80 L1014.20,673.20 L1012.95,671.60 L1014.61,670.00 L1013.67,668.40 L1015.34,666.80 L1014.40,665.20 L1016.07,663.60 L1015.13,662.00 L1016.80,660.40 L1015.86,658.80 L1016.80,657.20 L1016.59,655.60 L1016.80,654.00 L1017,653.8 L1017.20,654.00 L1017.41,655.60 L1017.20,657.20 L1018.14,658.80 L1017.20,660.40 L1018.87,662.00 L1017.93,663.60 L1019.60,665.20 L1018.66,666.80 L1020.33,668.40 L1019.39,670.00 L1021.05,671.60 L1019.80,673.20 L1021.10,674.80 L1019.80,676.40 L1021.10,678.00 L1019.80,679.60 L1021.10,681.20 L1019.80,682.80 L1021.10,684.40 L1019.80,686.00 L1021.10,687.60 L1019.80,689.20 L1021.10,690.80 L1019.80,692.40 L1021.10,694.00 Z" fill="#d6d6d6" stroke="#111" stroke-width="1.1" stroke-linejoin="miter"/><path d="M1012.9,691.0 L1021.1,694.0 M1012.9,687.8 L1021.1,690.8 M1012.9,684.6 L1021.1,687.6 M1012.9,681.4 L1021.1,684.4 M1012.9,678.2 L1021.1,681.2 M1012.9,675.0 L1021.1,678.0 M1012.9,671.8 L1021.1,674.8 M1013.3,668.6 L1020.7,671.6 M1014.0,665.4 L1020.0,668.4 M1014.7,662.2 L1019.3,665.2 M1015.5,659.0 L1018.5,662.0 M1016.2,655.8 L1017.8,658.8" stroke="#111" stroke-width="1.4" fill="none"/>
<path d="M990.5,734 L1008.5,734 Q1003.5,732.8 1002.6,728 L996.4,728 Q995.5,732.8 990.5,734 Z" fill="#8a8a8a" stroke="#111" stroke-width="1"/><path d="M996.5,729 L996.5,719 M1002.5,729 L1002.5,719" stroke="#111" stroke-width="1.1" fill="none"/><path d="M995.40,720.00 L996.70,718.40 L995.40,716.80 L996.70,715.20 L995.40,713.60 L996.70,712.00 L995.40,710.40 L996.70,708.80 L995.40,707.20 L996.70,705.60 L995.40,704.00 L996.70,702.40 L995.40,700.80 L996.70,699.20 L995.40,697.60 L996.70,696.00 L995.40,694.40 L996.70,692.80 L995.40,691.20 L996.70,689.60 L995.40,688.00 L996.70,686.40 L995.40,684.80 L996.70,683.20 L995.40,681.60 L996.70,680.00 L995.45,678.40 L997.11,676.80 L996.17,675.20 L997.84,673.60 L996.90,672.00 L998.57,670.40 L997.63,668.80 L999.30,667.20 L998.36,665.60 L999.30,664.00 L999.09,662.40 L999.30,660.80 L999.5,660.6 L999.70,660.80 L999.91,662.40 L999.70,664.00 L1000.64,665.60 L999.70,667.20 L1001.37,668.80 L1000.43,670.40 L1002.10,672.00 L1001.16,673.60 L1002.83,675.20 L1001.89,676.80 L1003.55,678.40 L1002.30,680.00 L1003.60,681.60 L1002.30,683.20 L1003.60,684.80 L1002.30,686.40 L1003.60,688.00 L1002.30,689.60 L1003.60,691.20 L1002.30,692.80 L1003.60,694.40 L1002.30,696.00 L1003.60,697.60 L1002.30,699.20 L1003.60,700.80 L1002.30,702.40 L1003.60,704.00 L1002.30,705.60 L1003.60,707.20 L1002.30,708.80 L1003.60,710.40 L1002.30,712.00 L1003.60,713.60 L1002.30,715.20 L1003.60,716.80 L1002.30,718.40 L1003.60,720.00 Z" fill="#d6d6d6" stroke="#111" stroke-width="1.1" stroke-linejoin="miter"/><path d="M995.4,717.0 L1003.6,720.0 M995.4,713.8 L1003.6,716.8 M995.4,710.6 L1003.6,713.6 M995.4,707.4 L1003.6,710.4 M995.4,704.2 L1003.6,707.2 M995.4,701.0 L1003.6,704.0 M995.4,697.8 L1003.6,700.8 M995.4,694.6 L1003.6,697.6 M995.4,691.4 L1003.6,694.4 M995.4,688.2 L1003.6,691.2 M995.4,685.0 L1003.6,688.0 M995.4,681.8 L1003.6,684.8 M995.4,678.6 L1003.6,681.6 M995.8,675.4 L1003.2,678.4 M996.5,672.2 L1002.5,675.2 M997.2,669.0 L1001.8,672.0 M998.0,665.8 L1001.0,668.8 M998.7,662.6 L1000.3,665.6" stroke="#111" stroke-width="1.4" fill="none"/>
<path d="M1370,734 L1388,734 Q1383,732.8 1382.1,728 L1375.9,728 Q1375,732.8 1370,734 Z" fill="#8a8a8a" stroke="#111" stroke-width="1"/><path d="M1376,729 L1376,719 M1382,729 L1382,719" stroke="#111" stroke-width="1.1" fill="none"/><path d="M1374.90,720.00 L1376.20,718.40 L1374.90,716.80 L1376.20,715.20 L1374.90,713.60 L1376.20,712.00 L1374.90,710.40 L1376.20,708.80 L1374.90,707.20 L1376.20,705.60 L1374.90,704.00 L1376.20,702.40 L1374.90,700.80 L1376.20,699.20 L1374.90,697.60 L1376.20,696.00 L1374.90,694.40 L1376.20,692.80 L1374.90,691.20 L1376.20,689.60 L1374.90,688.00 L1376.20,686.40 L1374.90,684.80 L1376.20,683.20 L1374.90,681.60 L1376.20,680.00 L1374.92,678.40 L1376.59,676.80 L1375.65,675.20 L1377.32,673.60 L1376.38,672.00 L1378.05,670.40 L1377.11,668.80 L1378.77,667.20 L1377.84,665.60 L1378.80,664.00 L1378.57,662.40 L1378.80,660.80 L1379,660.5 L1379.20,660.80 L1379.43,662.40 L1379.20,664.00 L1380.16,665.60 L1379.23,667.20 L1380.89,668.80 L1379.95,670.40 L1381.62,672.00 L1380.68,673.60 L1382.35,675.20 L1381.41,676.80 L1383.08,678.40 L1381.80,680.00 L1383.10,681.60 L1381.80,683.20 L1383.10,684.80 L1381.80,686.40 L1383.10,688.00 L1381.80,689.60 L1383.10,691.20 L1381.80,692.80 L1383.10,694.40 L1381.80,696.00 L1383.10,697.60 L1381.80,699.20 L1383.10,700.80 L1381.80,702.40 L1383.10,704.00 L1381.80,705.60 L1383.10,707.20 L1381.80,708.80 L1383.10,710.40 L1381.80,712.00 L1383.10,713.60 L1381.80,715.20 L1383.10,716.80 L1381.80,718.40 L1383.10,720.00 Z" fill="#d6d6d6" stroke="#111" stroke-width="1.1" stroke-linejoin="miter"/><path d="M1374.9,717.0 L1383.1,720.0 M1374.9,713.8 L1383.1,716.8 M1374.9,710.6 L1383.1,713.6 M1374.9,707.4 L1383.1,710.4 M1374.9,704.2 L1383.1,707.2 M1374.9,701.0 L1383.1,704.0 M1374.9,697.8 L1383.1,700.8 M1374.9,694.6 L1383.1,697.6 M1374.9,691.4 L1383.1,694.4 M1374.9,688.2 L1383.1,691.2 M1374.9,685.0 L1383.1,688.0 M1374.9,681.8 L1383.1,684.8 M1374.9,678.6 L1383.1,681.6 M1375.3,675.4 L1382.7,678.4 M1376.0,672.2 L1382.0,675.2 M1376.7,669.0 L1381.3,672.0 M1377.5,665.8 L1380.5,668.8 M1378.2,662.6 L1379.8,665.6" stroke="#111" stroke-width="1.4" fill="none"/>
<path d="M1428.7,734 L1446.7,734 Q1441.7,732.8 1440.8,728 L1434.6000000000001,728 Q1433.7,732.8 1428.7,734 Z" fill="#8a8a8a" stroke="#111" stroke-width="1"/><path d="M1434.7,729 L1434.7,719 M1440.7,729 L1440.7,719" stroke="#111" stroke-width="1.1" fill="none"/><path d="M1433.60,720.00 L1434.90,718.40 L1433.60,716.80 L1434.90,715.20 L1433.60,713.60 L1434.90,712.00 L1433.60,710.40 L1434.90,708.80 L1433.60,707.20 L1434.90,705.60 L1433.60,704.00 L1434.90,702.40 L1433.60,700.80 L1434.90,699.20 L1433.60,697.60 L1434.90,696.00 L1433.60,694.40 L1434.90,692.80 L1433.60,691.20 L1434.90,689.60 L1433.60,688.00 L1434.90,686.40 L1433.60,684.80 L1434.90,683.20 L1433.60,681.60 L1434.90,680.00 L1433.62,678.40 L1435.29,676.80 L1434.35,675.20 L1436.02,673.60 L1435.08,672.00 L1436.75,670.40 L1435.81,668.80 L1437.47,667.20 L1436.54,665.60 L1437.50,664.00 L1437.27,662.40 L1437.50,660.80 L1437.7,660.5 L1437.90,660.80 L1438.13,662.40 L1437.90,664.00 L1438.86,665.60 L1437.93,667.20 L1439.59,668.80 L1438.65,670.40 L1440.32,672.00 L1439.38,673.60 L1441.05,675.20 L1440.11,676.80 L1441.78,678.40 L1440.50,680.00 L1441.80,681.60 L1440.50,683.20 L1441.80,684.80 L1440.50,686.40 L1441.80,688.00 L1440.50,689.60 L1441.80,691.20 L1440.50,692.80 L1441.80,694.40 L1440.50,696.00 L1441.80,697.60 L1440.50,699.20 L1441.80,700.80 L1440.50,702.40 L1441.80,704.00 L1440.50,705.60 L1441.80,707.20 L1440.50,708.80 L1441.80,710.40 L1440.50,712.00 L1441.80,713.60 L1440.50,715.20 L1441.80,716.80 L1440.50,718.40 L1441.80,720.00 Z" fill="#d6d6d6" stroke="#111" stroke-width="1.1" stroke-linejoin="miter"/><path d="M1433.6,717.0 L1441.8,720.0 M1433.6,713.8 L1441.8,716.8 M1433.6,710.6 L1441.8,713.6 M1433.6,707.4 L1441.8,710.4 M1433.6,704.2 L1441.8,707.2 M1433.6,701.0 L1441.8,704.0 M1433.6,697.8 L1441.8,700.8 M1433.6,694.6 L1441.8,697.6 M1433.6,691.4 L1441.8,694.4 M1433.6,688.2 L1441.8,691.2 M1433.6,685.0 L1441.8,688.0 M1433.6,681.8 L1441.8,684.8 M1433.6,678.6 L1441.8,681.6 M1434.0,675.4 L1441.4,678.4 M1434.7,672.2 L1440.7,675.2 M1435.4,669.0 L1440.0,672.0 M1436.2,665.8 L1439.2,668.8 M1436.9,662.6 L1438.5,665.6" stroke="#111" stroke-width="1.4" fill="none"/>
<path d="M1407,708 L1425,708 Q1420,706.8 1419.1,702 L1412.9,702 Q1412,706.8 1407,708 Z" fill="#8a8a8a" stroke="#111" stroke-width="1"/><path d="M1413,703 L1413,693 M1419,703 L1419,693" stroke="#111" stroke-width="1.1" fill="none"/><path d="M1411.90,694.00 L1413.20,692.40 L1411.90,690.80 L1413.20,689.20 L1411.90,687.60 L1413.20,686.00 L1411.90,684.40 L1413.20,682.80 L1411.90,681.20 L1413.20,679.60 L1411.90,678.00 L1413.20,676.40 L1411.90,674.80 L1413.20,673.20 L1412.11,671.60 L1413.77,670.00 L1412.83,668.40 L1414.50,666.80 L1413.56,665.20 L1415.23,663.60 L1414.29,662.00 L1415.80,660.40 L1415.02,658.80 L1415.80,657.20 L1415.70,655.60 L1416,654.5 L1416.30,655.60 L1416.20,657.20 L1416.98,658.80 L1416.20,660.40 L1417.71,662.00 L1416.77,663.60 L1418.44,665.20 L1417.50,666.80 L1419.17,668.40 L1418.23,670.00 L1419.89,671.60 L1418.80,673.20 L1420.10,674.80 L1418.80,676.40 L1420.10,678.00 L1418.80,679.60 L1420.10,681.20 L1418.80,682.80 L1420.10,684.40 L1418.80,686.00 L1420.10,687.60 L1418.80,689.20 L1420.10,690.80 L1418.80,692.40 L1420.10,694.00 Z" fill="#d6d6d6" stroke="#111" stroke-width="1.1" stroke-linejoin="miter"/><path d="M1411.9,691.0 L1420.1,694.0 M1411.9,687.8 L1420.1,690.8 M1411.9,684.6 L1420.1,687.6 M1411.9,681.4 L1420.1,684.4 M1411.9,678.2 L1420.1,681.2 M1411.9,675.0 L1420.1,678.0 M1411.9,671.8 L1420.1,674.8 M1412.4,668.6 L1419.6,671.6 M1413.2,665.4 L1418.8,668.4 M1413.9,662.2 L1418.1,665.2 M1414.6,659.0 L1417.4,662.0 M1415.4,655.8 L1416.6,658.8" stroke="#111" stroke-width="1.4" fill="none"/>
<rect x="255" y="321.0" width="14" height="20.600000000000023" fill="#fff"/>
<rect x="252" y="321.0" width="121" height="20.600000000000023" fill="#fff"/>
<path d="M253,331.3 L259,322.0 L319,322.0 L319,340.6 L259,340.6 Z" fill="#000"/>
<path d="M262,325.8 L318,325.8 M260,331.8 L318,331.8 M262,336.8 L318,336.8" stroke="#fff" stroke-width="1.3" stroke-dasharray="2.5 3.5"/>
<path d="M253,331.3 L259,322.0 L319,322.0 L319,340.6 L259,340.6 Z" fill="none" stroke="#000" stroke-width="1.5" stroke-dasharray="3 1.5"/>
<path d="M319,322.0 L373,322.0 L373,340.6 L319,340.6" fill="none" stroke="#000" stroke-width="3.2"/>
<path d="M321,328.3 L335,328.3 L352,332.3 L372,332.3 M335,334.3 L372,334.3" fill="none" stroke="#000" stroke-width="2"/>
<rect x="382.3" y="321.5" width="5.6" height="20.100000000000023" fill="#000"/>
<rect x="255" y="589.1" width="14" height="20.59999999999991" fill="#fff"/>
<rect x="252" y="589.1" width="121" height="20.59999999999991" fill="#fff"/>
<path d="M253,599.4 L259,590.1 L319,590.1 L319,608.6999999999999 L259,608.6999999999999 Z" fill="#000"/>
<path d="M262,593.9 L318,593.9 M260,599.9 L318,599.9 M262,604.9 L318,604.9" stroke="#fff" stroke-width="1.3" stroke-dasharray="2.5 3.5"/>
<path d="M253,599.4 L259,590.1 L319,590.1 L319,608.6999999999999 L259,608.6999999999999 Z" fill="none" stroke="#000" stroke-width="1.5" stroke-dasharray="3 1.5"/>
<path d="M319,590.1 L373,590.1 L373,608.6999999999999 L319,608.6999999999999" fill="none" stroke="#000" stroke-width="3.2"/>
<path d="M321,596.4 L335,596.4 L352,600.4 L372,600.4 M335,602.4 L372,602.4" fill="none" stroke="#000" stroke-width="2"/>
<rect x="382.3" y="589.6" width="5.6" height="20.09999999999991" fill="#000"/>
<line x1="780" y1="163" x2="780" y2="765" stroke="#000" stroke-width="2" stroke-dasharray="61 14" stroke-dashoffset="29"/>
<line x1="801" y1="163" x2="801" y2="765" stroke="#000" stroke-width="2" stroke-dasharray="61 14" stroke-dashoffset="29"/>
<line x1="1189.5" y1="163" x2="1189.5" y2="765" stroke="#000" stroke-width="2" stroke-dasharray="61 14" stroke-dashoffset="29"/>
<line x1="1210" y1="163" x2="1210" y2="765" stroke="#000" stroke-width="2" stroke-dasharray="61 14" stroke-dashoffset="29"/>
<line x1="1608.5" y1="163" x2="1608.5" y2="765" stroke="#000" stroke-width="1.4" stroke-dasharray="61 14" stroke-dashoffset="29"/>
<line x1="49.00" y1="94.00" x2="563.00" y2="94.00" stroke="#000" stroke-width="2" />
<line x1="562.60" y1="93.00" x2="562.60" y2="296.00" stroke="#000" stroke-width="1.2" />
<circle cx="562.6" cy="296" r="4.5" fill="#000"/>
<line x1="50.00" y1="164.00" x2="407.00" y2="164.00" stroke="#000" stroke-width="2" />
<line x1="406.50" y1="163.00" x2="406.50" y2="256.00" stroke="#000" stroke-width="1.2" />
<circle cx="406.5" cy="256" r="4.5" fill="#000"/>
<line x1="51.00" y1="347.00" x2="269.50" y2="347.00" stroke="#000" stroke-width="1.3" />
<circle cx="269.5" cy="347" r="4.5" fill="#000"/>
<line x1="51.00" y1="637.70" x2="372.60" y2="637.70" stroke="#000" stroke-width="2" />
<circle cx="372.6" cy="637.7" r="4.5" fill="#000"/>
<line x1="51.00" y1="710.60" x2="380.00" y2="710.60" stroke="#000" stroke-width="2" />
<circle cx="380" cy="710.6" r="4" fill="#000"/>
<line x1="51.00" y1="776.00" x2="604.00" y2="776.00" stroke="#000" stroke-width="2" />
<line x1="603.20" y1="693.00" x2="603.20" y2="777.00" stroke="#000" stroke-width="1.2" />
<circle cx="603.2" cy="693.2" r="4.3" fill="#000"/>
<circle cx="603.2" cy="719.7" r="4.3" fill="#000"/>
<line x1="1345.30" y1="80.30" x2="1796.00" y2="80.30" stroke="#000" stroke-width="1.5" />
<line x1="1345.30" y1="80.00" x2="1345.30" y2="223.30" stroke="#000" stroke-width="1.2" />
<circle cx="1345.5" cy="223.9" r="4.1" fill="#000"/>
<line x1="1431.70" y1="141.40" x2="1796.00" y2="141.40" stroke="#000" stroke-width="1.5" />
<line x1="1431.70" y1="141.00" x2="1431.70" y2="237.80" stroke="#000" stroke-width="1.2" />
<circle cx="1431.7" cy="237.8" r="4.5" fill="#000"/>
<line x1="1444.80" y1="759.00" x2="1796.00" y2="759.00" stroke="#000" stroke-width="2" />
<line x1="1444.80" y1="720.00" x2="1444.80" y2="759.00" stroke="#000" stroke-width="1.2" />
<circle cx="1444.8" cy="720" r="4.5" fill="#000"/>
<circle cx="25" cy="94" r="24" fill="#fff" stroke="#000" stroke-width="2.3"/>
<path transform="translate(5,74) scale(0.048309)" d="M105,230 L170,210 L290,210 L290,660 L205,660 L205,305 L125,305 L105,280 Z M315,230 L380,210 L495,210 L495,660 L415,660 L415,305 L315,305 Z" fill="#000" fill-rule="evenodd"/>
<circle cx="26.5" cy="162.5" r="24" fill="#fff" stroke="#000" stroke-width="2.3"/>
<path transform="translate(6,142) scale(0.048309)" d="M185,320 L275,230 L450,230 L515,295 L515,430 L490,470 L345,600 L535,600 L535,680 L185,680 L185,600 L400,410 L435,370 L385,305 L310,305 L245,370 Z" fill="#000" fill-rule="evenodd"/>
<circle cx="26.8" cy="347" r="24" fill="#fff" stroke="#000" stroke-width="2.3"/>
<path transform="translate(6,327) scale(0.048309)" d="M335,210 L515,210 L575,255 L530,325 L480,295 L380,295 L330,340 L330,375 L510,375 L575,440 L575,600 L490,660 L320,660 L235,560 L235,330 L275,245 Z M355,455 L455,455 L495,510 L455,580 L355,580 L330,545 L330,480 Z" fill="#000" fill-rule="evenodd"/>
<circle cx="26.7" cy="637" r="24" fill="#fff" stroke="#000" stroke-width="2.3"/>
<path transform="translate(6,617) scale(0.048309)" d="M250,210 L580,210 L580,295 L390,660 L270,660 L460,295 L250,295 Z" fill="#000" fill-rule="evenodd"/>
<circle cx="26.7" cy="709.5" r="24" fill="#fff" stroke="#000" stroke-width="2.3"/>
<path transform="translate(6,690) scale(0.048309)" d="M320,210 L510,210 L575,270 L575,380 L540,420 L575,460 L575,595 L510,655 L320,655 L235,595 L235,470 L280,420 L250,380 L250,275 Z M350,290 L470,290 L495,340 L460,385 L370,385 L330,340 Z M360,455 L460,455 L495,515 L470,580 L355,580 L310,520 Z" fill="#000" fill-rule="evenodd"/>
<circle cx="26.7" cy="772.5" r="24" fill="#fff" stroke="#000" stroke-width="2.3"/>
<path transform="translate(6,753) scale(0.048309)" d="M310,230 L375,210 L475,210 L475,660 L395,660 L395,305 L310,305 Z" fill="#000" fill-rule="evenodd"/>
<circle cx="1820" cy="79" r="24" fill="#fff" stroke="#000" stroke-width="2.3"/>
<path transform="translate(1800,59) scale(0.048309)" d="M295,210 L470,210 L535,270 L535,385 L500,430 L555,480 L555,595 L470,660 L295,660 L210,595 L210,460 L250,420 L230,385 L230,270 Z M330,290 L435,290 L455,330 L420,375 L340,375 L310,330 Z M330,455 L435,455 L470,520 L430,580 L310,580 L290,515 Z" fill="#000" fill-rule="evenodd"/>
<circle cx="1820" cy="140" r="24" fill="#fff" stroke="#000" stroke-width="2.3"/>
<path transform="translate(1800,120) scale(0.048309)" d="M400,210 L475,210 L475,500 L535,500 L535,575 L475,575 L475,660 L395,660 L395,575 L165,575 L150,510 L165,465 Z M395,345 L265,500 L395,500 Z" fill="#000" fill-rule="evenodd"/>
<circle cx="1820.5" cy="758" r="24" fill="#fff" stroke="#000" stroke-width="2.3"/>
<path transform="translate(1800,738) scale(0.048309)" d="M270,210 L555,210 L555,290 L350,290 L350,375 L510,375 L575,440 L575,575 L490,660 L320,660 L230,600 L255,545 L305,545 L355,580 L460,580 L495,510 L455,455 L320,455 L250,420 L250,375 L270,375 Z" fill="#000" fill-rule="evenodd"/>
<line x1="1652.00" y1="184.00" x2="1652.00" y2="746.00" stroke="#000" stroke-width="2" />
<line x1="1623.00" y1="196.80" x2="1669.00" y2="196.80" stroke="#000" stroke-width="2" />
<line x1="1642.00" y1="187.20" x2="1662.70" y2="207.40" stroke="#000" stroke-width="2" />
<line x1="1624.70" y1="736.50" x2="1667.50" y2="736.50" stroke="#000" stroke-width="2" />
<line x1="1641.80" y1="727.80" x2="1661.60" y2="746.40" stroke="#000" stroke-width="2" />
<text transform="translate(1641,600) rotate(-90)" class="t" font-size="24.5" stroke="#000" stroke-width="0.5" textLength="284" lengthAdjust="spacingAndGlyphs">od 210 - bez ograniczeń</text>
<line x1="980.60" y1="811.80" x2="1445.40" y2="811.80" stroke="#000" stroke-width="2" />
<line x1="995.20" y1="785.00" x2="995.20" y2="828.00" stroke="#000" stroke-width="2" />
<line x1="984.60" y1="822.40" x2="1004.00" y2="802.50" stroke="#000" stroke-width="2" />
<line x1="1426.00" y1="784.00" x2="1426.00" y2="824.30" stroke="#000" stroke-width="2" />
<line x1="1416.00" y1="822.00" x2="1436.50" y2="801.00" stroke="#000" stroke-width="2" />
<text x="1187" y="803" class="t" font-size="24.5" stroke="#000" stroke-width="0.15" textLength="50" lengthAdjust="spacingAndGlyphs">400</text>
</svg></body></html>
